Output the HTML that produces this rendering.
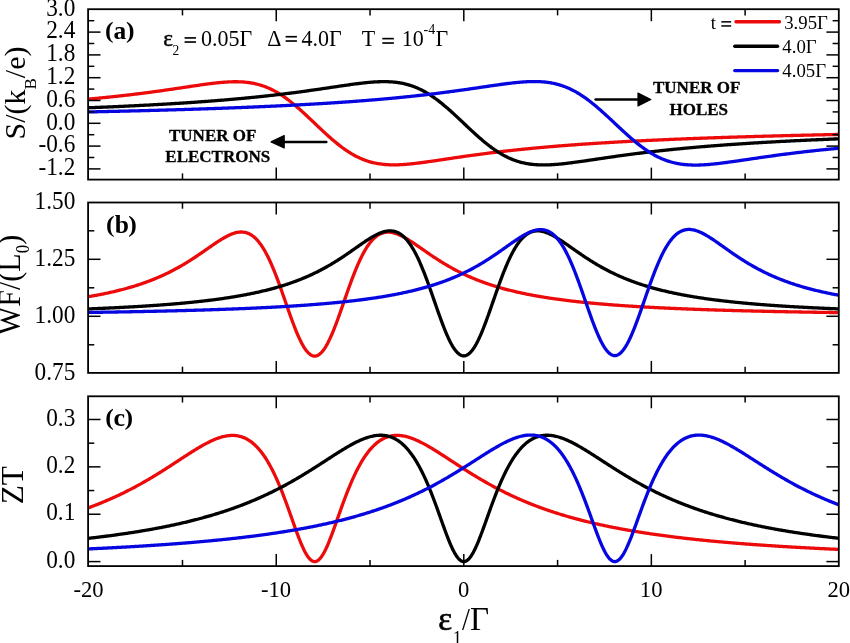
<!DOCTYPE html>
<html><head><meta charset="utf-8"><style>
html,body{margin:0;padding:0;background:#fff;width:850px;height:643px;overflow:hidden}
svg{display:block;will-change:transform}
text{font-family:"Liberation Serif",serif;fill:#000}
</style></head><body>
<svg width="850" height="643" viewBox="0 0 850 643">
<defs><clipPath id="ca"><rect x="88.1" y="9.2" width="750.6999999999999" height="170.4"/></clipPath>
<clipPath id="cb"><rect x="88.1" y="202.5" width="750.6999999999999" height="170.39999999999998"/></clipPath>
<clipPath id="cc"><rect x="88.1" y="396.3" width="750.6999999999999" height="169.8"/></clipPath></defs>
<rect width="850" height="643" fill="#fff"/>
<g fill="none" stroke-width="3.3" stroke-linejoin="round" stroke-linecap="butt">
<path d="M79.32,99.88 L80.26,99.80 81.20,99.72 82.14,99.64 83.07,99.56 84.01,99.48 84.95,99.40 85.89,99.31 86.82,99.23 87.76,99.15 88.70,99.06 89.64,98.98 90.58,98.89 91.51,98.81 92.45,98.72 93.39,98.63 94.33,98.54 95.26,98.46 96.20,98.37 97.14,98.28 98.08,98.19 99.02,98.10 99.95,98.01 100.89,97.92 101.83,97.82 102.77,97.73 103.70,97.64 104.64,97.54 105.58,97.45 106.52,97.36 107.46,97.26 108.39,97.16 109.33,97.07 110.27,96.97 111.21,96.87 112.14,96.77 113.08,96.67 114.02,96.58 114.96,96.47 115.89,96.37 116.83,96.27 117.77,96.17 118.71,96.07 119.65,95.96 120.58,95.86 121.52,95.76 122.46,95.65 123.40,95.54 124.33,95.44 125.27,95.33 126.21,95.22 127.15,95.11 128.09,95.01 129.02,94.90 129.96,94.79 130.90,94.67 131.84,94.56 132.77,94.45 133.71,94.34 134.65,94.22 135.59,94.11 136.53,93.99 137.46,93.88 138.40,93.76 139.34,93.65 140.28,93.53 141.21,93.41 142.15,93.29 143.09,93.17 144.03,93.05 144.97,92.93 145.90,92.81 146.84,92.69 147.78,92.56 148.72,92.44 149.65,92.31 150.59,92.19 151.53,92.06 152.47,91.94 153.40,91.81 154.34,91.68 155.28,91.56 156.22,91.43 157.16,91.30 158.09,91.17 159.03,91.04 159.97,90.91 160.91,90.78 161.84,90.64 162.78,90.51 163.72,90.38 164.66,90.24 165.60,90.11 166.53,89.97 167.47,89.84 168.41,89.70 169.35,89.57 170.28,89.43 171.22,89.29 172.16,89.16 173.10,89.02 174.04,88.88 174.97,88.74 175.91,88.60 176.85,88.46 177.79,88.32 178.72,88.18 179.66,88.04 180.60,87.90 181.54,87.76 182.48,87.62 183.41,87.48 184.35,87.34 185.29,87.20 186.23,87.06 187.16,86.92 188.10,86.78 189.04,86.64 189.98,86.50 190.91,86.36 191.85,86.22 192.79,86.08 193.73,85.94 194.67,85.80 195.60,85.67 196.54,85.53 197.48,85.39 198.42,85.26 199.35,85.12 200.29,84.99 201.23,84.86 202.17,84.72 203.11,84.59 204.04,84.46 204.98,84.34 205.92,84.21 206.86,84.09 207.79,83.96 208.73,83.84 209.67,83.72 210.61,83.60 211.55,83.49 212.48,83.37 213.42,83.26 214.36,83.15 215.30,83.05 216.23,82.95 217.17,82.85 218.11,82.75 219.05,82.66 219.99,82.56 220.92,82.48 221.86,82.40 222.80,82.32 223.74,82.24 224.67,82.17 225.61,82.11 226.55,82.04 227.49,81.99 228.42,81.94 229.36,81.89 230.30,81.85 231.24,81.82 232.18,81.79 233.11,81.77 234.05,81.75 234.99,81.74 235.93,81.74 236.86,81.75 237.80,81.76 238.74,81.78 239.68,81.81 240.62,81.85 241.55,81.90 242.49,81.95 243.43,82.02 244.37,82.09 245.30,82.17 246.24,82.27 247.18,82.37 248.12,82.49 249.06,82.61 249.99,82.75 250.93,82.89 251.87,83.05 252.81,83.22 253.74,83.41 254.68,83.60 255.62,83.81 256.56,84.03 257.50,84.26 258.43,84.51 259.37,84.77 260.31,85.05 261.25,85.33 262.18,85.64 263.12,85.95 264.06,86.28 265.00,86.63 265.93,86.99 266.87,87.36 267.81,87.75 268.75,88.15 269.69,88.57 270.62,89.01 271.56,89.46 272.50,89.92 273.44,90.40 274.37,90.89 275.31,91.40 276.25,91.93 277.19,92.47 278.13,93.02 279.06,93.59 280.00,94.17 280.94,94.77 281.88,95.38 282.81,96.00 283.75,96.64 284.69,97.30 285.63,97.96 286.57,98.64 287.50,99.33 288.44,100.04 289.38,100.75 290.32,101.48 291.25,102.22 292.19,102.97 293.13,103.73 294.07,104.51 295.00,105.29 295.94,106.08 296.88,106.88 297.82,107.69 298.76,108.51 299.69,109.34 300.63,110.18 301.57,111.02 302.51,111.87 303.44,112.72 304.38,113.58 305.32,114.45 306.26,115.32 307.20,116.20 308.13,117.08 309.07,117.96 310.01,118.85 310.95,119.73 311.88,120.62 312.82,121.52 313.76,122.41 314.70,123.30 315.64,124.20 316.57,125.09 317.51,125.98 318.45,126.87 319.39,127.76 320.32,128.65 321.26,129.53 322.20,130.41 323.14,131.28 324.08,132.16 325.01,133.02 325.95,133.88 326.89,134.74 327.83,135.59 328.76,136.43 329.70,137.26 330.64,138.09 331.58,138.91 332.51,139.72 333.45,140.52 334.39,141.31 335.33,142.10 336.27,142.87 337.20,143.63 338.14,144.38 339.08,145.12 340.02,145.85 340.95,146.57 341.89,147.27 342.83,147.96 343.77,148.64 344.71,149.31 345.64,149.96 346.58,150.60 347.52,151.23 348.46,151.84 349.39,152.43 350.33,153.02 351.27,153.58 352.21,154.14 353.15,154.68 354.08,155.20 355.02,155.71 355.96,156.20 356.90,156.68 357.83,157.15 358.77,157.60 359.71,158.03 360.65,158.45 361.59,158.85 362.52,159.24 363.46,159.61 364.40,159.97 365.34,160.32 366.27,160.65 367.21,160.97 368.15,161.27 369.09,161.56 370.03,161.83 370.96,162.09 371.90,162.34 372.84,162.57 373.78,162.79 374.71,163.00 375.65,163.19 376.59,163.38 377.53,163.55 378.46,163.70 379.40,163.85 380.34,163.99 381.28,164.11 382.22,164.23 383.15,164.33 384.09,164.42 385.03,164.51 385.97,164.58 386.90,164.64 387.84,164.70 388.78,164.75 389.72,164.78 390.66,164.81 391.59,164.83 392.53,164.85 393.47,164.85 394.41,164.85 395.34,164.84 396.28,164.83 397.22,164.81 398.16,164.78 399.10,164.74 400.03,164.70 400.97,164.66 401.91,164.61 402.85,164.55 403.78,164.49 404.72,164.42 405.66,164.35 406.60,164.28 407.54,164.20 408.47,164.12 409.41,164.03 410.35,163.94 411.29,163.84 412.22,163.75 413.16,163.65 414.10,163.54 415.04,163.44 415.97,163.33 416.91,163.22 417.85,163.11 418.79,162.99 419.73,162.87 420.66,162.75 421.60,162.63 422.54,162.51 423.48,162.38 424.41,162.26 425.35,162.13 426.29,162.00 427.23,161.87 428.17,161.74 429.10,161.60 430.04,161.47 430.98,161.33 431.92,161.20 432.85,161.06 433.79,160.93 434.73,160.79 435.67,160.65 436.61,160.51 437.54,160.37 438.48,160.23 439.42,160.09 440.36,159.95 441.29,159.81 442.23,159.67 443.17,159.53 444.11,159.39 445.05,159.25 445.98,159.11 446.92,158.97 447.86,158.83 448.80,158.69 449.73,158.55 450.67,158.41 451.61,158.27 452.55,158.13 453.48,157.99 454.42,157.85 455.36,157.71 456.30,157.58 457.24,157.44 458.17,157.30 459.11,157.16 460.05,157.03 460.99,156.89 461.92,156.75 462.86,156.62 463.80,156.48 464.74,156.35 465.68,156.22 466.61,156.08 467.55,155.95 468.49,155.82 469.43,155.69 470.36,155.56 471.30,155.43 472.24,155.30 473.18,155.17 474.12,155.04 475.05,154.91 475.99,154.78 476.93,154.66 477.87,154.53 478.80,154.40 479.74,154.28 480.68,154.16 481.62,154.03 482.56,153.91 483.49,153.79 484.43,153.66 485.37,153.54 486.31,153.42 487.24,153.30 488.18,153.19 489.12,153.07 490.06,152.95 490.99,152.83 491.93,152.72 492.87,152.60 493.81,152.49 494.75,152.37 495.68,152.26 496.62,152.14 497.56,152.03 498.50,151.92 499.43,151.81 500.37,151.70 501.31,151.59 502.25,151.48 503.19,151.37 504.12,151.26 505.06,151.16 506.00,151.05 506.94,150.94 507.87,150.84 508.81,150.73 509.75,150.63 510.69,150.53 511.63,150.42 512.56,150.32 513.50,150.22 514.44,150.12 515.38,150.02 516.31,149.92 517.25,149.82 518.19,149.72 519.13,149.63 520.07,149.53 521.00,149.43 521.94,149.34 522.88,149.24 523.82,149.15 524.75,149.05 525.69,148.96 526.63,148.86 527.57,148.77 528.50,148.68 529.44,148.59 530.38,148.50 531.32,148.41 532.26,148.32 533.19,148.23 534.13,148.14 535.07,148.05 536.01,147.96 536.94,147.88 537.88,147.79 538.82,147.70 539.76,147.62 540.70,147.53 541.63,147.45 542.57,147.37 543.51,147.28 544.45,147.20 545.38,147.12 546.32,147.04 547.26,146.95 548.20,146.87 549.14,146.79 550.07,146.71 551.01,146.63 551.95,146.55 552.89,146.48 553.82,146.40 554.76,146.32 555.70,146.24 556.64,146.17 557.58,146.09 558.51,146.01 559.45,145.94 560.39,145.86 561.33,145.79 562.26,145.72 563.20,145.64 564.14,145.57 565.08,145.50 566.01,145.42 566.95,145.35 567.89,145.28 568.83,145.21 569.77,145.14 570.70,145.07 571.64,145.00 572.58,144.93 573.52,144.86 574.45,144.79 575.39,144.73 576.33,144.66 577.27,144.59 578.21,144.52 579.14,144.46 580.08,144.39 581.02,144.33 581.96,144.26 582.89,144.19 583.83,144.13 584.77,144.07 585.71,144.00 586.65,143.94 587.58,143.88 588.52,143.81 589.46,143.75 590.40,143.69 591.33,143.63 592.27,143.56 593.21,143.50 594.15,143.44 595.09,143.38 596.02,143.32 596.96,143.26 597.90,143.20 598.84,143.14 599.77,143.09 600.71,143.03 601.65,142.97 602.59,142.91 603.52,142.85 604.46,142.80 605.40,142.74 606.34,142.68 607.28,142.63 608.21,142.57 609.15,142.51 610.09,142.46 611.03,142.40 611.96,142.35 612.90,142.30 613.84,142.24 614.78,142.19 615.72,142.13 616.65,142.08 617.59,142.03 618.53,141.97 619.47,141.92 620.40,141.87 621.34,141.82 622.28,141.77 623.22,141.72 624.16,141.66 625.09,141.61 626.03,141.56 626.97,141.51 627.91,141.46 628.84,141.41 629.78,141.36 630.72,141.31 631.66,141.26 632.60,141.22 633.53,141.17 634.47,141.12 635.41,141.07 636.35,141.02 637.28,140.98 638.22,140.93 639.16,140.88 640.10,140.84 641.03,140.79 641.97,140.74 642.91,140.70 643.85,140.65 644.79,140.60 645.72,140.56 646.66,140.51 647.60,140.47 648.54,140.42 649.47,140.38 650.41,140.34 651.35,140.29 652.29,140.25 653.23,140.20 654.16,140.16 655.10,140.12 656.04,140.07 656.98,140.03 657.91,139.99 658.85,139.95 659.79,139.90 660.73,139.86 661.67,139.82 662.60,139.78 663.54,139.74 664.48,139.70 665.42,139.66 666.35,139.62 667.29,139.57 668.23,139.53 669.17,139.49 670.11,139.45 671.04,139.41 671.98,139.37 672.92,139.34 673.86,139.30 674.79,139.26 675.73,139.22 676.67,139.18 677.61,139.14 678.54,139.10 679.48,139.06 680.42,139.03 681.36,138.99 682.30,138.95 683.23,138.91 684.17,138.88 685.11,138.84 686.05,138.80 686.98,138.77 687.92,138.73 688.86,138.69 689.80,138.66 690.74,138.62 691.67,138.58 692.61,138.55 693.55,138.51 694.49,138.48 695.42,138.44 696.36,138.41 697.30,138.37 698.24,138.34 699.18,138.30 700.11,138.27 701.05,138.23 701.99,138.20 702.93,138.17 703.86,138.13 704.80,138.10 705.74,138.06 706.68,138.03 707.62,138.00 708.55,137.96 709.49,137.93 710.43,137.90 711.37,137.87 712.30,137.83 713.24,137.80 714.18,137.77 715.12,137.74 716.05,137.70 716.99,137.67 717.93,137.64 718.87,137.61 719.81,137.58 720.74,137.55 721.68,137.51 722.62,137.48 723.56,137.45 724.49,137.42 725.43,137.39 726.37,137.36 727.31,137.33 728.25,137.30 729.18,137.27 730.12,137.24 731.06,137.21 732.00,137.18 732.93,137.15 733.87,137.12 734.81,137.09 735.75,137.06 736.69,137.03 737.62,137.00 738.56,136.97 739.50,136.95 740.44,136.92 741.37,136.89 742.31,136.86 743.25,136.83 744.19,136.80 745.12,136.78 746.06,136.75 747.00,136.72 747.94,136.69 748.88,136.66 749.81,136.64 750.75,136.61 751.69,136.58 752.63,136.55 753.56,136.53 754.50,136.50 755.44,136.47 756.38,136.45 757.32,136.42 758.25,136.39 759.19,136.37 760.13,136.34 761.07,136.31 762.00,136.29 762.94,136.26 763.88,136.24 764.82,136.21 765.76,136.18 766.69,136.16 767.63,136.13 768.57,136.11 769.51,136.08 770.44,136.06 771.38,136.03 772.32,136.01 773.26,135.98 774.20,135.96 775.13,135.93 776.07,135.91 777.01,135.88 777.95,135.86 778.88,135.83 779.82,135.81 780.76,135.79 781.70,135.76 782.63,135.74 783.57,135.71 784.51,135.69 785.45,135.67 786.39,135.64 787.32,135.62 788.26,135.59 789.20,135.57 790.14,135.55 791.07,135.52 792.01,135.50 792.95,135.48 793.89,135.46 794.83,135.43 795.76,135.41 796.70,135.39 797.64,135.36 798.58,135.34 799.51,135.32 800.45,135.30 801.39,135.27 802.33,135.25 803.27,135.23 804.20,135.21 805.14,135.19 806.08,135.16 807.02,135.14 807.95,135.12 808.89,135.10 809.83,135.08 810.77,135.06 811.71,135.03 812.64,135.01 813.58,134.99 814.52,134.97 815.46,134.95 816.39,134.93 817.33,134.91 818.27,134.89 819.21,134.87 820.14,134.84 821.08,134.82 822.02,134.80 822.96,134.78 823.90,134.76 824.83,134.74 825.77,134.72 826.71,134.70 827.65,134.68 828.58,134.66 829.52,134.64 830.46,134.62 831.40,134.60 832.34,134.58 833.27,134.56 834.21,134.54 835.15,134.52 836.09,134.50 837.02,134.48 837.96,134.46 838.90,134.44 839.84,134.42 840.78,134.41 841.71,134.39 842.65,134.37 843.59,134.35 844.53,134.33 845.46,134.31 846.40,134.29 847.34,134.27 848.28,134.25" stroke="#ec0a0a" clip-path="url(#ca)"/>
<path d="M79.32,108.12 L80.26,108.08 81.20,108.05 82.14,108.01 83.07,107.98 84.01,107.94 84.95,107.91 85.89,107.87 86.82,107.83 87.76,107.80 88.70,107.76 89.64,107.72 90.58,107.69 91.51,107.65 92.45,107.61 93.39,107.58 94.33,107.54 95.26,107.50 96.20,107.46 97.14,107.42 98.08,107.39 99.02,107.35 99.95,107.31 100.89,107.27 101.83,107.23 102.77,107.19 103.70,107.15 104.64,107.11 105.58,107.07 106.52,107.03 107.46,106.99 108.39,106.95 109.33,106.91 110.27,106.87 111.21,106.83 112.14,106.79 113.08,106.75 114.02,106.71 114.96,106.67 115.89,106.63 116.83,106.58 117.77,106.54 118.71,106.50 119.65,106.46 120.58,106.41 121.52,106.37 122.46,106.33 123.40,106.28 124.33,106.24 125.27,106.20 126.21,106.15 127.15,106.11 128.09,106.06 129.02,106.02 129.96,105.97 130.90,105.93 131.84,105.88 132.77,105.84 133.71,105.79 134.65,105.75 135.59,105.70 136.53,105.65 137.46,105.61 138.40,105.56 139.34,105.51 140.28,105.46 141.21,105.42 142.15,105.37 143.09,105.32 144.03,105.27 144.97,105.22 145.90,105.17 146.84,105.13 147.78,105.08 148.72,105.03 149.65,104.98 150.59,104.93 151.53,104.88 152.47,104.82 153.40,104.77 154.34,104.72 155.28,104.67 156.22,104.62 157.16,104.57 158.09,104.51 159.03,104.46 159.97,104.41 160.91,104.36 161.84,104.30 162.78,104.25 163.72,104.19 164.66,104.14 165.60,104.08 166.53,104.03 167.47,103.97 168.41,103.92 169.35,103.86 170.28,103.81 171.22,103.75 172.16,103.69 173.10,103.64 174.04,103.58 174.97,103.52 175.91,103.46 176.85,103.41 177.79,103.35 178.72,103.29 179.66,103.23 180.60,103.17 181.54,103.11 182.48,103.05 183.41,102.99 184.35,102.93 185.29,102.87 186.23,102.80 187.16,102.74 188.10,102.68 189.04,102.62 189.98,102.55 190.91,102.49 191.85,102.43 192.79,102.36 193.73,102.30 194.67,102.23 195.60,102.17 196.54,102.10 197.48,102.04 198.42,101.97 199.35,101.90 200.29,101.84 201.23,101.77 202.17,101.70 203.11,101.63 204.04,101.56 204.98,101.50 205.92,101.43 206.86,101.36 207.79,101.29 208.73,101.21 209.67,101.14 210.61,101.07 211.55,101.00 212.48,100.93 213.42,100.86 214.36,100.78 215.30,100.71 216.23,100.63 217.17,100.56 218.11,100.48 219.05,100.41 219.99,100.33 220.92,100.26 221.86,100.18 222.80,100.10 223.74,100.03 224.67,99.95 225.61,99.87 226.55,99.79 227.49,99.71 228.42,99.63 229.36,99.55 230.30,99.47 231.24,99.39 232.18,99.31 233.11,99.22 234.05,99.14 234.99,99.06 235.93,98.97 236.86,98.89 237.80,98.80 238.74,98.72 239.68,98.63 240.62,98.55 241.55,98.46 242.49,98.37 243.43,98.28 244.37,98.19 245.30,98.10 246.24,98.01 247.18,97.92 248.12,97.83 249.06,97.74 249.99,97.65 250.93,97.56 251.87,97.46 252.81,97.37 253.74,97.28 254.68,97.18 255.62,97.09 256.56,96.99 257.50,96.89 258.43,96.80 259.37,96.70 260.31,96.60 261.25,96.50 262.18,96.40 263.12,96.30 264.06,96.20 265.00,96.10 265.93,96.00 266.87,95.90 267.81,95.79 268.75,95.69 269.69,95.58 270.62,95.48 271.56,95.37 272.50,95.27 273.44,95.16 274.37,95.05 275.31,94.94 276.25,94.84 277.19,94.73 278.13,94.62 279.06,94.51 280.00,94.39 280.94,94.28 281.88,94.17 282.81,94.06 283.75,93.94 284.69,93.83 285.63,93.71 286.57,93.60 287.50,93.48 288.44,93.36 289.38,93.24 290.32,93.13 291.25,93.01 292.19,92.89 293.13,92.77 294.07,92.65 295.00,92.52 295.94,92.40 296.88,92.28 297.82,92.15 298.76,92.03 299.69,91.91 300.63,91.78 301.57,91.65 302.51,91.53 303.44,91.40 304.38,91.27 305.32,91.14 306.26,91.01 307.20,90.88 308.13,90.75 309.07,90.62 310.01,90.49 310.95,90.36 311.88,90.23 312.82,90.09 313.76,89.96 314.70,89.83 315.64,89.69 316.57,89.56 317.51,89.42 318.45,89.29 319.39,89.15 320.32,89.01 321.26,88.88 322.20,88.74 323.14,88.60 324.08,88.46 325.01,88.32 325.95,88.19 326.89,88.05 327.83,87.91 328.76,87.77 329.70,87.63 330.64,87.49 331.58,87.35 332.51,87.21 333.45,87.07 334.39,86.93 335.33,86.79 336.27,86.65 337.20,86.52 338.14,86.38 339.08,86.24 340.02,86.10 340.95,85.96 341.89,85.82 342.83,85.69 343.77,85.55 344.71,85.42 345.64,85.28 346.58,85.15 347.52,85.01 348.46,84.88 349.39,84.75 350.33,84.62 351.27,84.49 352.21,84.36 353.15,84.23 354.08,84.11 355.02,83.98 355.96,83.86 356.90,83.74 357.83,83.62 358.77,83.51 359.71,83.39 360.65,83.28 361.59,83.17 362.52,83.06 363.46,82.96 364.40,82.85 365.34,82.75 366.27,82.66 367.21,82.57 368.15,82.48 369.09,82.39 370.03,82.31 370.96,82.23 371.90,82.15 372.84,82.08 373.78,82.02 374.71,81.96 375.65,81.90 376.59,81.85 377.53,81.80 378.46,81.76 379.40,81.73 380.34,81.70 381.28,81.68 382.22,81.66 383.15,81.65 384.09,81.65 385.03,81.65 385.97,81.66 386.90,81.68 387.84,81.71 388.78,81.74 389.72,81.79 390.66,81.84 391.59,81.90 392.53,81.97 393.47,82.05 394.41,82.14 395.34,82.24 396.28,82.35 397.22,82.47 398.16,82.60 399.10,82.75 400.03,82.90 400.97,83.06 401.91,83.24 402.85,83.43 403.78,83.63 404.72,83.84 405.66,84.07 406.60,84.31 407.54,84.56 408.47,84.83 409.41,85.11 410.35,85.40 411.29,85.71 412.22,86.03 413.16,86.37 414.10,86.72 415.04,87.08 415.97,87.46 416.91,87.85 417.85,88.26 418.79,88.68 419.73,89.12 420.66,89.57 421.60,90.04 422.54,90.52 423.48,91.02 424.41,91.53 425.35,92.06 426.29,92.60 427.23,93.15 428.17,93.72 429.10,94.30 430.04,94.90 430.98,95.51 431.92,96.14 432.85,96.78 433.79,97.43 434.73,98.09 435.67,98.77 436.61,99.46 437.54,100.17 438.48,100.88 439.42,101.61 440.36,102.34 441.29,103.09 442.23,103.85 443.17,104.62 444.11,105.40 445.05,106.19 445.98,106.99 446.92,107.79 447.86,108.61 448.80,109.43 449.73,110.26 450.67,111.10 451.61,111.94 452.55,112.79 453.48,113.65 454.42,114.51 455.36,115.37 456.30,116.24 457.24,117.12 458.17,117.99 459.11,118.87 460.05,119.76 460.99,120.64 461.92,121.53 462.86,122.41 463.80,123.30 464.74,124.19 465.68,125.07 466.61,125.96 467.55,126.84 468.49,127.73 469.43,128.61 470.36,129.48 471.30,130.36 472.24,131.23 473.18,132.09 474.12,132.95 475.05,133.81 475.99,134.66 476.93,135.50 477.87,136.34 478.80,137.17 479.74,137.99 480.68,138.81 481.62,139.61 482.56,140.41 483.49,141.20 484.43,141.98 485.37,142.75 486.31,143.51 487.24,144.26 488.18,144.99 489.12,145.72 490.06,146.43 490.99,147.14 491.93,147.83 492.87,148.51 493.81,149.17 494.75,149.82 495.68,150.46 496.62,151.09 497.56,151.70 498.50,152.30 499.43,152.88 500.37,153.45 501.31,154.00 502.25,154.54 503.19,155.07 504.12,155.58 505.06,156.08 506.00,156.56 506.94,157.03 507.87,157.48 508.81,157.92 509.75,158.34 510.69,158.75 511.63,159.14 512.56,159.52 513.50,159.88 514.44,160.23 515.38,160.57 516.31,160.89 517.25,161.20 518.19,161.49 519.13,161.77 520.07,162.04 521.00,162.29 521.94,162.53 522.88,162.76 523.82,162.97 524.75,163.17 525.69,163.36 526.63,163.54 527.57,163.70 528.50,163.85 529.44,164.00 530.38,164.13 531.32,164.25 532.26,164.36 533.19,164.46 534.13,164.55 535.07,164.63 536.01,164.70 536.94,164.76 537.88,164.81 538.82,164.86 539.76,164.89 540.70,164.92 541.63,164.94 542.57,164.95 543.51,164.95 544.45,164.95 545.38,164.94 546.32,164.92 547.26,164.90 548.20,164.87 549.14,164.84 550.07,164.80 551.01,164.75 551.95,164.70 552.89,164.64 553.82,164.58 554.76,164.52 555.70,164.45 556.64,164.37 557.58,164.29 558.51,164.21 559.45,164.12 560.39,164.03 561.33,163.94 562.26,163.85 563.20,163.75 564.14,163.64 565.08,163.54 566.01,163.43 566.95,163.32 567.89,163.21 568.83,163.09 569.77,162.98 570.70,162.86 571.64,162.74 572.58,162.62 573.52,162.49 574.45,162.37 575.39,162.24 576.33,162.11 577.27,161.98 578.21,161.85 579.14,161.72 580.08,161.59 581.02,161.45 581.96,161.32 582.89,161.18 583.83,161.05 584.77,160.91 585.71,160.78 586.65,160.64 587.58,160.50 588.52,160.36 589.46,160.22 590.40,160.08 591.33,159.95 592.27,159.81 593.21,159.67 594.15,159.53 595.09,159.39 596.02,159.25 596.96,159.11 597.90,158.97 598.84,158.83 599.77,158.69 600.71,158.55 601.65,158.41 602.59,158.28 603.52,158.14 604.46,158.00 605.40,157.86 606.34,157.72 607.28,157.59 608.21,157.45 609.15,157.31 610.09,157.18 611.03,157.04 611.96,156.91 612.90,156.77 613.84,156.64 614.78,156.51 615.72,156.37 616.65,156.24 617.59,156.11 618.53,155.98 619.47,155.85 620.40,155.72 621.34,155.59 622.28,155.46 623.22,155.33 624.16,155.20 625.09,155.07 626.03,154.95 626.97,154.82 627.91,154.69 628.84,154.57 629.78,154.45 630.72,154.32 631.66,154.20 632.60,154.08 633.53,153.95 634.47,153.83 635.41,153.71 636.35,153.59 637.28,153.47 638.22,153.36 639.16,153.24 640.10,153.12 641.03,153.00 641.97,152.89 642.91,152.77 643.85,152.66 644.79,152.54 645.72,152.43 646.66,152.32 647.60,152.21 648.54,152.09 649.47,151.98 650.41,151.87 651.35,151.76 652.29,151.66 653.23,151.55 654.16,151.44 655.10,151.33 656.04,151.23 656.98,151.12 657.91,151.02 658.85,150.91 659.79,150.81 660.73,150.70 661.67,150.60 662.60,150.50 663.54,150.40 664.48,150.30 665.42,150.20 666.35,150.10 667.29,150.00 668.23,149.90 669.17,149.80 670.11,149.71 671.04,149.61 671.98,149.51 672.92,149.42 673.86,149.32 674.79,149.23 675.73,149.14 676.67,149.04 677.61,148.95 678.54,148.86 679.48,148.77 680.42,148.68 681.36,148.59 682.30,148.50 683.23,148.41 684.17,148.32 685.11,148.23 686.05,148.14 686.98,148.05 687.92,147.97 688.86,147.88 689.80,147.80 690.74,147.71 691.67,147.63 692.61,147.54 693.55,147.46 694.49,147.38 695.42,147.29 696.36,147.21 697.30,147.13 698.24,147.05 699.18,146.97 700.11,146.89 701.05,146.81 701.99,146.73 702.93,146.65 703.86,146.57 704.80,146.50 705.74,146.42 706.68,146.34 707.62,146.27 708.55,146.19 709.49,146.12 710.43,146.04 711.37,145.97 712.30,145.89 713.24,145.82 714.18,145.74 715.12,145.67 716.05,145.60 716.99,145.53 717.93,145.46 718.87,145.39 719.81,145.31 720.74,145.24 721.68,145.17 722.62,145.10 723.56,145.04 724.49,144.97 725.43,144.90 726.37,144.83 727.31,144.76 728.25,144.70 729.18,144.63 730.12,144.56 731.06,144.50 732.00,144.43 732.93,144.37 733.87,144.30 734.81,144.24 735.75,144.17 736.69,144.11 737.62,144.05 738.56,143.98 739.50,143.92 740.44,143.86 741.37,143.80 742.31,143.73 743.25,143.67 744.19,143.61 745.12,143.55 746.06,143.49 747.00,143.43 747.94,143.37 748.88,143.31 749.81,143.25 750.75,143.19 751.69,143.14 752.63,143.08 753.56,143.02 754.50,142.96 755.44,142.91 756.38,142.85 757.32,142.79 758.25,142.74 759.19,142.68 760.13,142.63 761.07,142.57 762.00,142.52 762.94,142.46 763.88,142.41 764.82,142.35 765.76,142.30 766.69,142.24 767.63,142.19 768.57,142.14 769.51,142.09 770.44,142.03 771.38,141.98 772.32,141.93 773.26,141.88 774.20,141.83 775.13,141.78 776.07,141.72 777.01,141.67 777.95,141.62 778.88,141.57 779.82,141.52 780.76,141.47 781.70,141.43 782.63,141.38 783.57,141.33 784.51,141.28 785.45,141.23 786.39,141.18 787.32,141.14 788.26,141.09 789.20,141.04 790.14,140.99 791.07,140.95 792.01,140.90 792.95,140.85 793.89,140.81 794.83,140.76 795.76,140.72 796.70,140.67 797.64,140.63 798.58,140.58 799.51,140.54 800.45,140.49 801.39,140.45 802.33,140.40 803.27,140.36 804.20,140.32 805.14,140.27 806.08,140.23 807.02,140.19 807.95,140.14 808.89,140.10 809.83,140.06 810.77,140.02 811.71,139.97 812.64,139.93 813.58,139.89 814.52,139.85 815.46,139.81 816.39,139.77 817.33,139.73 818.27,139.69 819.21,139.65 820.14,139.61 821.08,139.57 822.02,139.53 822.96,139.49 823.90,139.45 824.83,139.41 825.77,139.37 826.71,139.33 827.65,139.29 828.58,139.25 829.52,139.21 830.46,139.18 831.40,139.14 832.34,139.10 833.27,139.06 834.21,139.02 835.15,138.99 836.09,138.95 837.02,138.91 837.96,138.88 838.90,138.84 839.84,138.80 840.78,138.77 841.71,138.73 842.65,138.69 843.59,138.66 844.53,138.62 845.46,138.59 846.40,138.55 847.34,138.52 848.28,138.48" stroke="#000000" clip-path="url(#ca)"/>
<path d="M79.32,112.11 L80.26,112.10 81.20,112.08 82.14,112.06 83.07,112.04 84.01,112.02 84.95,112.00 85.89,111.98 86.82,111.96 87.76,111.94 88.70,111.92 89.64,111.90 90.58,111.88 91.51,111.86 92.45,111.84 93.39,111.82 94.33,111.80 95.26,111.78 96.20,111.76 97.14,111.74 98.08,111.72 99.02,111.70 99.95,111.68 100.89,111.66 101.83,111.64 102.77,111.62 103.70,111.60 104.64,111.58 105.58,111.56 106.52,111.54 107.46,111.51 108.39,111.49 109.33,111.47 110.27,111.45 111.21,111.43 112.14,111.41 113.08,111.39 114.02,111.36 114.96,111.34 115.89,111.32 116.83,111.30 117.77,111.28 118.71,111.26 119.65,111.23 120.58,111.21 121.52,111.19 122.46,111.17 123.40,111.15 124.33,111.12 125.27,111.10 126.21,111.08 127.15,111.05 128.09,111.03 129.02,111.01 129.96,110.99 130.90,110.96 131.84,110.94 132.77,110.92 133.71,110.89 134.65,110.87 135.59,110.85 136.53,110.82 137.46,110.80 138.40,110.78 139.34,110.75 140.28,110.73 141.21,110.70 142.15,110.68 143.09,110.66 144.03,110.63 144.97,110.61 145.90,110.58 146.84,110.56 147.78,110.53 148.72,110.51 149.65,110.49 150.59,110.46 151.53,110.44 152.47,110.41 153.40,110.39 154.34,110.36 155.28,110.33 156.22,110.31 157.16,110.28 158.09,110.26 159.03,110.23 159.97,110.21 160.91,110.18 161.84,110.15 162.78,110.13 163.72,110.10 164.66,110.08 165.60,110.05 166.53,110.02 167.47,110.00 168.41,109.97 169.35,109.94 170.28,109.92 171.22,109.89 172.16,109.86 173.10,109.83 174.04,109.81 174.97,109.78 175.91,109.75 176.85,109.72 177.79,109.70 178.72,109.67 179.66,109.64 180.60,109.61 181.54,109.58 182.48,109.55 183.41,109.53 184.35,109.50 185.29,109.47 186.23,109.44 187.16,109.41 188.10,109.38 189.04,109.35 189.98,109.32 190.91,109.29 191.85,109.26 192.79,109.23 193.73,109.20 194.67,109.17 195.60,109.14 196.54,109.11 197.48,109.08 198.42,109.05 199.35,109.02 200.29,108.99 201.23,108.96 202.17,108.93 203.11,108.90 204.04,108.87 204.98,108.84 205.92,108.81 206.86,108.77 207.79,108.74 208.73,108.71 209.67,108.68 210.61,108.65 211.55,108.61 212.48,108.58 213.42,108.55 214.36,108.52 215.30,108.48 216.23,108.45 217.17,108.42 218.11,108.38 219.05,108.35 219.99,108.32 220.92,108.28 221.86,108.25 222.80,108.21 223.74,108.18 224.67,108.15 225.61,108.11 226.55,108.08 227.49,108.04 228.42,108.01 229.36,107.97 230.30,107.94 231.24,107.90 232.18,107.87 233.11,107.83 234.05,107.79 234.99,107.76 235.93,107.72 236.86,107.69 237.80,107.65 238.74,107.61 239.68,107.58 240.62,107.54 241.55,107.50 242.49,107.46 243.43,107.43 244.37,107.39 245.30,107.35 246.24,107.31 247.18,107.27 248.12,107.24 249.06,107.20 249.99,107.16 250.93,107.12 251.87,107.08 252.81,107.04 253.74,107.00 254.68,106.96 255.62,106.92 256.56,106.88 257.50,106.84 258.43,106.80 259.37,106.76 260.31,106.72 261.25,106.68 262.18,106.64 263.12,106.60 264.06,106.56 265.00,106.51 265.93,106.47 266.87,106.43 267.81,106.39 268.75,106.34 269.69,106.30 270.62,106.26 271.56,106.22 272.50,106.17 273.44,106.13 274.37,106.08 275.31,106.04 276.25,106.00 277.19,105.95 278.13,105.91 279.06,105.86 280.00,105.82 280.94,105.77 281.88,105.73 282.81,105.68 283.75,105.63 284.69,105.59 285.63,105.54 286.57,105.49 287.50,105.45 288.44,105.40 289.38,105.35 290.32,105.30 291.25,105.26 292.19,105.21 293.13,105.16 294.07,105.11 295.00,105.06 295.94,105.01 296.88,104.96 297.82,104.91 298.76,104.86 299.69,104.81 300.63,104.76 301.57,104.71 302.51,104.66 303.44,104.61 304.38,104.56 305.32,104.51 306.26,104.46 307.20,104.40 308.13,104.35 309.07,104.30 310.01,104.24 310.95,104.19 311.88,104.14 312.82,104.08 313.76,104.03 314.70,103.97 315.64,103.92 316.57,103.86 317.51,103.81 318.45,103.75 319.39,103.70 320.32,103.64 321.26,103.58 322.20,103.53 323.14,103.47 324.08,103.41 325.01,103.35 325.95,103.30 326.89,103.24 327.83,103.18 328.76,103.12 329.70,103.06 330.64,103.00 331.58,102.94 332.51,102.88 333.45,102.82 334.39,102.76 335.33,102.70 336.27,102.63 337.20,102.57 338.14,102.51 339.08,102.45 340.02,102.38 340.95,102.32 341.89,102.26 342.83,102.19 343.77,102.13 344.71,102.06 345.64,102.00 346.58,101.93 347.52,101.87 348.46,101.80 349.39,101.73 350.33,101.66 351.27,101.60 352.21,101.53 353.15,101.46 354.08,101.39 355.02,101.32 355.96,101.25 356.90,101.18 357.83,101.11 358.77,101.04 359.71,100.97 360.65,100.90 361.59,100.83 362.52,100.75 363.46,100.68 364.40,100.61 365.34,100.53 366.27,100.46 367.21,100.39 368.15,100.31 369.09,100.23 370.03,100.16 370.96,100.08 371.90,100.01 372.84,99.93 373.78,99.85 374.71,99.77 375.65,99.69 376.59,99.61 377.53,99.53 378.46,99.45 379.40,99.37 380.34,99.29 381.28,99.21 382.22,99.13 383.15,99.05 384.09,98.96 385.03,98.88 385.97,98.80 386.90,98.71 387.84,98.63 388.78,98.54 389.72,98.45 390.66,98.37 391.59,98.28 392.53,98.19 393.47,98.11 394.41,98.02 395.34,97.93 396.28,97.84 397.22,97.75 398.16,97.66 399.10,97.57 400.03,97.47 400.97,97.38 401.91,97.29 402.85,97.19 403.78,97.10 404.72,97.01 405.66,96.91 406.60,96.81 407.54,96.72 408.47,96.62 409.41,96.52 410.35,96.42 411.29,96.33 412.22,96.23 413.16,96.13 414.10,96.03 415.04,95.92 415.97,95.82 416.91,95.72 417.85,95.62 418.79,95.51 419.73,95.41 420.66,95.30 421.60,95.20 422.54,95.09 423.48,94.99 424.41,94.88 425.35,94.77 426.29,94.66 427.23,94.55 428.17,94.44 429.10,94.33 430.04,94.22 430.98,94.11 431.92,94.00 432.85,93.88 433.79,93.77 434.73,93.66 435.67,93.54 436.61,93.43 437.54,93.31 438.48,93.19 439.42,93.08 440.36,92.96 441.29,92.84 442.23,92.72 443.17,92.60 444.11,92.48 445.05,92.36 445.98,92.23 446.92,92.11 447.86,91.99 448.80,91.87 449.73,91.74 450.67,91.62 451.61,91.49 452.55,91.36 453.48,91.24 454.42,91.11 455.36,90.98 456.30,90.85 457.24,90.72 458.17,90.59 459.11,90.46 460.05,90.33 460.99,90.20 461.92,90.07 462.86,89.94 463.80,89.81 464.74,89.67 465.68,89.54 466.61,89.40 467.55,89.27 468.49,89.13 469.43,89.00 470.36,88.86 471.30,88.73 472.24,88.59 473.18,88.45 474.12,88.32 475.05,88.18 475.99,88.04 476.93,87.90 477.87,87.77 478.80,87.63 479.74,87.49 480.68,87.35 481.62,87.21 482.56,87.08 483.49,86.94 484.43,86.80 485.37,86.66 486.31,86.52 487.24,86.38 488.18,86.25 489.12,86.11 490.06,85.97 490.99,85.83 491.93,85.70 492.87,85.56 493.81,85.43 494.75,85.29 495.68,85.16 496.62,85.03 497.56,84.89 498.50,84.76 499.43,84.63 500.37,84.50 501.31,84.37 502.25,84.25 503.19,84.12 504.12,84.00 505.06,83.87 506.00,83.75 506.94,83.63 507.87,83.51 508.81,83.40 509.75,83.29 510.69,83.17 511.63,83.06 512.56,82.96 513.50,82.85 514.44,82.75 515.38,82.65 516.31,82.56 517.25,82.47 518.19,82.38 519.13,82.29 520.07,82.21 521.00,82.13 521.94,82.06 522.88,81.99 523.82,81.92 524.75,81.86 525.69,81.80 526.63,81.75 527.57,81.70 528.50,81.66 529.44,81.63 530.38,81.60 531.32,81.57 532.26,81.56 533.19,81.55 534.13,81.54 535.07,81.54 536.01,81.55 536.94,81.57 537.88,81.60 538.82,81.63 539.76,81.67 540.70,81.72 541.63,81.78 542.57,81.85 543.51,81.92 544.45,82.01 545.38,82.10 546.32,82.21 547.26,82.33 548.20,82.45 549.14,82.59 550.07,82.74 551.01,82.90 551.95,83.07 552.89,83.25 553.82,83.45 554.76,83.65 555.70,83.87 556.64,84.11 557.58,84.35 558.51,84.61 559.45,84.88 560.39,85.17 561.33,85.47 562.26,85.78 563.20,86.10 564.14,86.44 565.08,86.80 566.01,87.17 566.95,87.55 567.89,87.95 568.83,88.36 569.77,88.79 570.70,89.23 571.64,89.68 572.58,90.15 573.52,90.64 574.45,91.14 575.39,91.65 576.33,92.18 577.27,92.72 578.21,93.28 579.14,93.85 580.08,94.43 581.02,95.03 581.96,95.64 582.89,96.27 583.83,96.91 584.77,97.56 585.71,98.22 586.65,98.90 587.58,99.59 588.52,100.29 589.46,101.00 590.40,101.73 591.33,102.46 592.27,103.21 593.21,103.97 594.15,104.73 595.09,105.51 596.02,106.29 596.96,107.09 597.90,107.89 598.84,108.70 599.77,109.52 600.71,110.34 601.65,111.18 602.59,112.01 603.52,112.86 604.46,113.71 605.40,114.57 606.34,115.43 607.28,116.29 608.21,117.16 609.15,118.03 610.09,118.90 611.03,119.78 611.96,120.66 612.90,121.54 613.84,122.42 614.78,123.30 615.72,124.18 616.65,125.06 617.59,125.94 618.53,126.82 619.47,127.69 620.40,128.57 621.34,129.44 622.28,130.31 623.22,131.17 624.16,132.03 625.09,132.89 626.03,133.74 626.97,134.58 627.91,135.42 628.84,136.25 629.78,137.08 630.72,137.90 631.66,138.71 632.60,139.51 633.53,140.30 634.47,141.09 635.41,141.86 636.35,142.63 637.28,143.39 638.22,144.13 639.16,144.87 640.10,145.59 641.03,146.30 641.97,147.00 642.91,147.69 643.85,148.37 644.79,149.04 645.72,149.69 646.66,150.33 647.60,150.95 648.54,151.56 649.47,152.16 650.41,152.75 651.35,153.32 652.29,153.87 653.23,154.42 654.16,154.94 655.10,155.46 656.04,155.96 656.98,156.44 657.91,156.91 658.85,157.37 659.79,157.81 660.73,158.24 661.67,158.65 662.60,159.05 663.54,159.43 664.48,159.80 665.42,160.15 666.35,160.49 667.29,160.82 668.23,161.13 669.17,161.43 670.11,161.72 671.04,161.99 671.98,162.25 672.92,162.49 673.86,162.73 674.79,162.95 675.73,163.15 676.67,163.35 677.61,163.53 678.54,163.70 679.48,163.86 680.42,164.01 681.36,164.15 682.30,164.28 683.23,164.39 684.17,164.50 685.11,164.59 686.05,164.68 686.98,164.76 687.92,164.82 688.86,164.88 689.80,164.93 690.74,164.97 691.67,165.01 692.61,165.03 693.55,165.05 694.49,165.06 695.42,165.06 696.36,165.06 697.30,165.05 698.24,165.03 699.18,165.01 700.11,164.98 701.05,164.94 701.99,164.90 702.93,164.86 703.86,164.80 704.80,164.75 705.74,164.69 706.68,164.62 707.62,164.55 708.55,164.48 709.49,164.40 710.43,164.32 711.37,164.23 712.30,164.14 713.24,164.05 714.18,163.95 715.12,163.85 716.05,163.75 716.99,163.65 717.93,163.54 718.87,163.43 719.81,163.32 720.74,163.21 721.68,163.09 722.62,162.97 723.56,162.86 724.49,162.73 725.43,162.61 726.37,162.49 727.31,162.36 728.25,162.23 729.18,162.11 730.12,161.98 731.06,161.85 732.00,161.71 732.93,161.58 733.87,161.45 734.81,161.31 735.75,161.18 736.69,161.04 737.62,160.91 738.56,160.77 739.50,160.64 740.44,160.50 741.37,160.36 742.31,160.22 743.25,160.09 744.19,159.95 745.12,159.81 746.06,159.67 747.00,159.53 747.94,159.39 748.88,159.26 749.81,159.12 750.75,158.98 751.69,158.84 752.63,158.70 753.56,158.56 754.50,158.43 755.44,158.29 756.38,158.15 757.32,158.02 758.25,157.88 759.19,157.74 760.13,157.61 761.07,157.47 762.00,157.34 762.94,157.20 763.88,157.07 764.82,156.93 765.76,156.80 766.69,156.67 767.63,156.54 768.57,156.40 769.51,156.27 770.44,156.14 771.38,156.01 772.32,155.88 773.26,155.75 774.20,155.62 775.13,155.50 776.07,155.37 777.01,155.24 777.95,155.12 778.88,154.99 779.82,154.87 780.76,154.74 781.70,154.62 782.63,154.49 783.57,154.37 784.51,154.25 785.45,154.13 786.39,154.01 787.32,153.89 788.26,153.77 789.20,153.65 790.14,153.53 791.07,153.41 792.01,153.30 792.95,153.18 793.89,153.06 794.83,152.95 795.76,152.83 796.70,152.72 797.64,152.61 798.58,152.50 799.51,152.38 800.45,152.27 801.39,152.16 802.33,152.05 803.27,151.94 804.20,151.83 805.14,151.73 806.08,151.62 807.02,151.51 807.95,151.41 808.89,151.30 809.83,151.20 810.77,151.09 811.71,150.99 812.64,150.88 813.58,150.78 814.52,150.68 815.46,150.58 816.39,150.48 817.33,150.38 818.27,150.28 819.21,150.18 820.14,150.08 821.08,149.98 822.02,149.89 822.96,149.79 823.90,149.69 824.83,149.60 825.77,149.50 826.71,149.41 827.65,149.32 828.58,149.22 829.52,149.13 830.46,149.04 831.40,148.95 832.34,148.86 833.27,148.77 834.21,148.68 835.15,148.59 836.09,148.50 837.02,148.41 837.96,148.32 838.90,148.24 839.84,148.15 840.78,148.06 841.71,147.98 842.65,147.89 843.59,147.81 844.53,147.72 845.46,147.64 846.40,147.56 847.34,147.47 848.28,147.39" stroke="#0606e0" clip-path="url(#ca)"/>
<path d="M79.32,298.11 L80.26,297.97 81.20,297.82 82.14,297.68 83.07,297.53 84.01,297.38 84.95,297.23 85.89,297.08 86.82,296.93 87.76,296.77 88.70,296.61 89.64,296.45 90.58,296.29 91.51,296.13 92.45,295.96 93.39,295.80 94.33,295.63 95.26,295.46 96.20,295.29 97.14,295.11 98.08,294.93 99.02,294.75 99.95,294.57 100.89,294.39 101.83,294.20 102.77,294.02 103.70,293.83 104.64,293.63 105.58,293.44 106.52,293.24 107.46,293.04 108.39,292.84 109.33,292.63 110.27,292.43 111.21,292.22 112.14,292.01 113.08,291.79 114.02,291.57 114.96,291.35 115.89,291.13 116.83,290.90 117.77,290.67 118.71,290.44 119.65,290.21 120.58,289.97 121.52,289.73 122.46,289.49 123.40,289.24 124.33,288.99 125.27,288.74 126.21,288.48 127.15,288.22 128.09,287.96 129.02,287.69 129.96,287.42 130.90,287.15 131.84,286.87 132.77,286.59 133.71,286.30 134.65,286.02 135.59,285.72 136.53,285.43 137.46,285.13 138.40,284.82 139.34,284.52 140.28,284.21 141.21,283.89 142.15,283.57 143.09,283.25 144.03,282.92 144.97,282.59 145.90,282.25 146.84,281.91 147.78,281.56 148.72,281.21 149.65,280.86 150.59,280.50 151.53,280.13 152.47,279.76 153.40,279.39 154.34,279.01 155.28,278.63 156.22,278.24 157.16,277.84 158.09,277.44 159.03,277.04 159.97,276.63 160.91,276.21 161.84,275.79 162.78,275.37 163.72,274.94 164.66,274.50 165.60,274.06 166.53,273.61 167.47,273.16 168.41,272.70 169.35,272.23 170.28,271.76 171.22,271.29 172.16,270.80 173.10,270.32 174.04,269.82 174.97,269.32 175.91,268.82 176.85,268.31 177.79,267.79 178.72,267.26 179.66,266.74 180.60,266.20 181.54,265.66 182.48,265.11 183.41,264.56 184.35,264.00 185.29,263.44 186.23,262.87 187.16,262.29 188.10,261.71 189.04,261.12 189.98,260.53 190.91,259.93 191.85,259.33 192.79,258.72 193.73,258.11 194.67,257.50 195.60,256.87 196.54,256.25 197.48,255.62 198.42,254.99 199.35,254.35 200.29,253.71 201.23,253.07 202.17,252.42 203.11,251.77 204.04,251.12 204.98,250.47 205.92,249.82 206.86,249.16 207.79,248.51 208.73,247.86 209.67,247.20 210.61,246.55 211.55,245.90 212.48,245.26 213.42,244.61 214.36,243.97 215.30,243.34 216.23,242.71 217.17,242.09 218.11,241.47 219.05,240.87 219.99,240.27 220.92,239.68 221.86,239.11 222.80,238.54 223.74,237.99 224.67,237.46 225.61,236.94 226.55,236.44 227.49,235.95 228.42,235.49 229.36,235.05 230.30,234.63 231.24,234.23 232.18,233.87 233.11,233.53 234.05,233.22 234.99,232.94 235.93,232.69 236.86,232.48 237.80,232.30 238.74,232.17 239.68,232.07 240.62,232.01 241.55,232.00 242.49,232.04 243.43,232.12 244.37,232.26 245.30,232.44 246.24,232.68 247.18,232.98 248.12,233.33 249.06,233.74 249.99,234.22 250.93,234.75 251.87,235.35 252.81,236.02 253.74,236.75 254.68,237.56 255.62,238.43 256.56,239.38 257.50,240.40 258.43,241.49 259.37,242.66 260.31,243.90 261.25,245.22 262.18,246.62 263.12,248.09 264.06,249.63 265.00,251.25 265.93,252.95 266.87,254.72 267.81,256.57 268.75,258.48 269.69,260.47 270.62,262.53 271.56,264.65 272.50,266.83 273.44,269.08 274.37,271.39 275.31,273.75 276.25,276.17 277.19,278.63 278.13,281.14 279.06,283.69 280.00,286.27 280.94,288.89 281.88,291.53 282.81,294.20 283.75,296.88 284.69,299.57 285.63,302.27 286.57,304.96 287.50,307.65 288.44,310.33 289.38,312.98 290.32,315.61 291.25,318.21 292.19,320.78 293.13,323.29 294.07,325.76 295.00,328.17 295.94,330.51 296.88,332.79 297.82,334.99 298.76,337.11 299.69,339.14 300.63,341.08 301.57,342.93 302.51,344.67 303.44,346.30 304.38,347.81 305.32,349.22 306.26,350.50 307.20,351.65 308.13,352.68 309.07,353.58 310.01,354.34 310.95,354.97 311.88,355.46 312.82,355.81 313.76,356.02 314.70,356.09 315.64,356.02 316.57,355.81 317.51,355.46 318.45,354.97 319.39,354.34 320.32,353.58 321.26,352.68 322.20,351.65 323.14,350.50 324.08,349.22 325.01,347.82 325.95,346.30 326.89,344.67 327.83,342.93 328.76,341.09 329.70,339.15 330.64,337.12 331.58,335.00 332.51,332.80 333.45,330.53 334.39,328.18 335.33,325.77 336.27,323.31 337.20,320.79 338.14,318.23 339.08,315.63 340.02,313.00 340.95,310.35 341.89,307.67 342.83,304.99 343.77,302.29 344.71,299.60 345.64,296.91 346.58,294.23 347.52,291.57 348.46,288.92 349.39,286.31 350.33,283.73 351.27,281.18 352.21,278.67 353.15,276.21 354.08,273.80 355.02,271.44 355.96,269.14 356.90,266.89 357.83,264.71 358.77,262.59 359.71,260.54 360.65,258.55 361.59,256.64 362.52,254.80 363.46,253.03 364.40,251.33 365.34,249.71 366.27,248.17 367.21,246.70 368.15,245.31 369.09,244.00 370.03,242.76 370.96,241.59 371.90,240.50 372.84,239.49 373.78,238.54 374.71,237.67 375.65,236.87 376.59,236.14 377.53,235.47 378.46,234.87 379.40,234.34 380.34,233.87 381.28,233.46 382.22,233.11 383.15,232.81 384.09,232.58 385.03,232.39 385.97,232.26 386.90,232.18 387.84,232.15 388.78,232.16 389.72,232.21 390.66,232.31 391.59,232.45 392.53,232.63 393.47,232.84 394.41,233.09 395.34,233.37 396.28,233.68 397.22,234.02 398.16,234.39 399.10,234.78 400.03,235.20 400.97,235.64 401.91,236.11 402.85,236.59 403.78,237.09 404.72,237.61 405.66,238.15 406.60,238.70 407.54,239.26 408.47,239.84 409.41,240.42 410.35,241.02 411.29,241.63 412.22,242.24 413.16,242.86 414.10,243.49 415.04,244.13 415.97,244.77 416.91,245.41 417.85,246.05 418.79,246.70 419.73,247.35 420.66,248.00 421.60,248.66 422.54,249.31 423.48,249.96 424.41,250.61 425.35,251.27 426.29,251.91 427.23,252.56 428.17,253.21 429.10,253.85 430.04,254.49 430.98,255.12 431.92,255.76 432.85,256.38 433.79,257.01 434.73,257.63 435.67,258.24 436.61,258.86 437.54,259.46 438.48,260.06 439.42,260.66 440.36,261.25 441.29,261.83 442.23,262.41 443.17,262.99 444.11,263.56 445.05,264.12 445.98,264.68 446.92,265.23 447.86,265.78 448.80,266.32 449.73,266.85 450.67,267.38 451.61,267.90 452.55,268.42 453.48,268.93 454.42,269.43 455.36,269.93 456.30,270.42 457.24,270.91 458.17,271.39 459.11,271.87 460.05,272.34 460.99,272.80 461.92,273.26 462.86,273.71 463.80,274.16 464.74,274.60 465.68,275.03 466.61,275.46 467.55,275.89 468.49,276.31 469.43,276.72 470.36,277.13 471.30,277.53 472.24,277.93 473.18,278.33 474.12,278.71 475.05,279.10 475.99,279.48 476.93,279.85 477.87,280.22 478.80,280.58 479.74,280.94 480.68,281.29 481.62,281.64 482.56,281.99 483.49,282.33 484.43,282.67 485.37,283.00 486.31,283.32 487.24,283.65 488.18,283.97 489.12,284.28 490.06,284.59 490.99,284.90 491.93,285.20 492.87,285.50 493.81,285.80 494.75,286.09 495.68,286.37 496.62,286.66 497.56,286.94 498.50,287.21 499.43,287.49 500.37,287.76 501.31,288.02 502.25,288.29 503.19,288.54 504.12,288.80 505.06,289.05 506.00,289.30 506.94,289.55 507.87,289.79 508.81,290.03 509.75,290.27 510.69,290.50 511.63,290.74 512.56,290.96 513.50,291.19 514.44,291.41 515.38,291.63 516.31,291.85 517.25,292.06 518.19,292.28 519.13,292.48 520.07,292.69 521.00,292.90 521.94,293.10 522.88,293.30 523.82,293.49 524.75,293.69 525.69,293.88 526.63,294.07 527.57,294.26 528.50,294.44 529.44,294.63 530.38,294.81 531.32,294.98 532.26,295.16 533.19,295.34 534.13,295.51 535.07,295.68 536.01,295.85 536.94,296.01 537.88,296.18 538.82,296.34 539.76,296.50 540.70,296.66 541.63,296.82 542.57,296.97 543.51,297.13 544.45,297.28 545.38,297.43 546.32,297.58 547.26,297.72 548.20,297.87 549.14,298.01 550.07,298.15 551.01,298.29 551.95,298.43 552.89,298.57 553.82,298.70 554.76,298.84 555.70,298.97 556.64,299.10 557.58,299.23 558.51,299.36 559.45,299.49 560.39,299.61 561.33,299.74 562.26,299.86 563.20,299.98 564.14,300.10 565.08,300.22 566.01,300.34 566.95,300.45 567.89,300.57 568.83,300.68 569.77,300.79 570.70,300.91 571.64,301.02 572.58,301.12 573.52,301.23 574.45,301.34 575.39,301.45 576.33,301.55 577.27,301.65 578.21,301.76 579.14,301.86 580.08,301.96 581.02,302.06 581.96,302.16 582.89,302.25 583.83,302.35 584.77,302.45 585.71,302.54 586.65,302.63 587.58,302.73 588.52,302.82 589.46,302.91 590.40,303.00 591.33,303.09 592.27,303.18 593.21,303.26 594.15,303.35 595.09,303.43 596.02,303.52 596.96,303.60 597.90,303.69 598.84,303.77 599.77,303.85 600.71,303.93 601.65,304.01 602.59,304.09 603.52,304.17 604.46,304.25 605.40,304.32 606.34,304.40 607.28,304.48 608.21,304.55 609.15,304.62 610.09,304.70 611.03,304.77 611.96,304.84 612.90,304.91 613.84,304.98 614.78,305.05 615.72,305.12 616.65,305.19 617.59,305.26 618.53,305.33 619.47,305.40 620.40,305.46 621.34,305.53 622.28,305.59 623.22,305.66 624.16,305.72 625.09,305.79 626.03,305.85 626.97,305.91 627.91,305.97 628.84,306.03 629.78,306.09 630.72,306.15 631.66,306.21 632.60,306.27 633.53,306.33 634.47,306.39 635.41,306.45 636.35,306.50 637.28,306.56 638.22,306.62 639.16,306.67 640.10,306.73 641.03,306.78 641.97,306.84 642.91,306.89 643.85,306.94 644.79,307.00 645.72,307.05 646.66,307.10 647.60,307.15 648.54,307.20 649.47,307.26 650.41,307.31 651.35,307.36 652.29,307.41 653.23,307.45 654.16,307.50 655.10,307.55 656.04,307.60 656.98,307.65 657.91,307.69 658.85,307.74 659.79,307.79 660.73,307.83 661.67,307.88 662.60,307.92 663.54,307.97 664.48,308.01 665.42,308.06 666.35,308.10 667.29,308.14 668.23,308.19 669.17,308.23 670.11,308.27 671.04,308.32 671.98,308.36 672.92,308.40 673.86,308.44 674.79,308.48 675.73,308.52 676.67,308.56 677.61,308.60 678.54,308.64 679.48,308.68 680.42,308.72 681.36,308.76 682.30,308.80 683.23,308.83 684.17,308.87 685.11,308.91 686.05,308.95 686.98,308.98 687.92,309.02 688.86,309.06 689.80,309.09 690.74,309.13 691.67,309.16 692.61,309.20 693.55,309.23 694.49,309.27 695.42,309.30 696.36,309.34 697.30,309.37 698.24,309.41 699.18,309.44 700.11,309.47 701.05,309.51 701.99,309.54 702.93,309.57 703.86,309.60 704.80,309.64 705.74,309.67 706.68,309.70 707.62,309.73 708.55,309.76 709.49,309.79 710.43,309.82 711.37,309.86 712.30,309.89 713.24,309.92 714.18,309.95 715.12,309.98 716.05,310.00 716.99,310.03 717.93,310.06 718.87,310.09 719.81,310.12 720.74,310.15 721.68,310.18 722.62,310.21 723.56,310.23 724.49,310.26 725.43,310.29 726.37,310.32 727.31,310.34 728.25,310.37 729.18,310.40 730.12,310.42 731.06,310.45 732.00,310.48 732.93,310.50 733.87,310.53 734.81,310.55 735.75,310.58 736.69,310.61 737.62,310.63 738.56,310.66 739.50,310.68 740.44,310.71 741.37,310.73 742.31,310.75 743.25,310.78 744.19,310.80 745.12,310.83 746.06,310.85 747.00,310.87 747.94,310.90 748.88,310.92 749.81,310.94 750.75,310.97 751.69,310.99 752.63,311.01 753.56,311.04 754.50,311.06 755.44,311.08 756.38,311.10 757.32,311.12 758.25,311.15 759.19,311.17 760.13,311.19 761.07,311.21 762.00,311.23 762.94,311.25 763.88,311.27 764.82,311.30 765.76,311.32 766.69,311.34 767.63,311.36 768.57,311.38 769.51,311.40 770.44,311.42 771.38,311.44 772.32,311.46 773.26,311.48 774.20,311.50 775.13,311.52 776.07,311.54 777.01,311.56 777.95,311.58 778.88,311.59 779.82,311.61 780.76,311.63 781.70,311.65 782.63,311.67 783.57,311.69 784.51,311.71 785.45,311.73 786.39,311.74 787.32,311.76 788.26,311.78 789.20,311.80 790.14,311.82 791.07,311.83 792.01,311.85 792.95,311.87 793.89,311.89 794.83,311.90 795.76,311.92 796.70,311.94 797.64,311.95 798.58,311.97 799.51,311.99 800.45,312.00 801.39,312.02 802.33,312.04 803.27,312.05 804.20,312.07 805.14,312.09 806.08,312.10 807.02,312.12 807.95,312.13 808.89,312.15 809.83,312.17 810.77,312.18 811.71,312.20 812.64,312.21 813.58,312.23 814.52,312.24 815.46,312.26 816.39,312.27 817.33,312.29 818.27,312.30 819.21,312.32 820.14,312.33 821.08,312.35 822.02,312.36 822.96,312.38 823.90,312.39 824.83,312.41 825.77,312.42 826.71,312.43 827.65,312.45 828.58,312.46 829.52,312.48 830.46,312.49 831.40,312.50 832.34,312.52 833.27,312.53 834.21,312.55 835.15,312.56 836.09,312.57 837.02,312.59 837.96,312.60 838.90,312.61 839.84,312.63 840.78,312.64 841.71,312.65 842.65,312.66 843.59,312.68 844.53,312.69 845.46,312.70 846.40,312.72 847.34,312.73 848.28,312.74" stroke="#ec0a0a" clip-path="url(#cb)"/>
<path d="M79.32,309.26 L80.26,309.22 81.20,309.19 82.14,309.15 83.07,309.12 84.01,309.08 84.95,309.05 85.89,309.01 86.82,308.97 87.76,308.94 88.70,308.90 89.64,308.86 90.58,308.82 91.51,308.79 92.45,308.75 93.39,308.71 94.33,308.67 95.26,308.63 96.20,308.59 97.14,308.56 98.08,308.52 99.02,308.48 99.95,308.44 100.89,308.39 101.83,308.35 102.77,308.31 103.70,308.27 104.64,308.23 105.58,308.19 106.52,308.14 107.46,308.10 108.39,308.06 109.33,308.01 110.27,307.97 111.21,307.93 112.14,307.88 113.08,307.84 114.02,307.79 114.96,307.75 115.89,307.70 116.83,307.65 117.77,307.61 118.71,307.56 119.65,307.51 120.58,307.46 121.52,307.41 122.46,307.37 123.40,307.32 124.33,307.27 125.27,307.22 126.21,307.17 127.15,307.12 128.09,307.07 129.02,307.01 129.96,306.96 130.90,306.91 131.84,306.86 132.77,306.80 133.71,306.75 134.65,306.69 135.59,306.64 136.53,306.58 137.46,306.53 138.40,306.47 139.34,306.42 140.28,306.36 141.21,306.30 142.15,306.24 143.09,306.18 144.03,306.13 144.97,306.07 145.90,306.01 146.84,305.94 147.78,305.88 148.72,305.82 149.65,305.76 150.59,305.70 151.53,305.63 152.47,305.57 153.40,305.50 154.34,305.44 155.28,305.37 156.22,305.31 157.16,305.24 158.09,305.17 159.03,305.10 159.97,305.04 160.91,304.97 161.84,304.90 162.78,304.83 163.72,304.75 164.66,304.68 165.60,304.61 166.53,304.54 167.47,304.46 168.41,304.39 169.35,304.31 170.28,304.24 171.22,304.16 172.16,304.08 173.10,304.00 174.04,303.92 174.97,303.84 175.91,303.76 176.85,303.68 177.79,303.60 178.72,303.52 179.66,303.43 180.60,303.35 181.54,303.26 182.48,303.18 183.41,303.09 184.35,303.00 185.29,302.91 186.23,302.83 187.16,302.73 188.10,302.64 189.04,302.55 189.98,302.46 190.91,302.36 191.85,302.27 192.79,302.17 193.73,302.08 194.67,301.98 195.60,301.88 196.54,301.78 197.48,301.68 198.42,301.58 199.35,301.47 200.29,301.37 201.23,301.26 202.17,301.16 203.11,301.05 204.04,300.94 204.98,300.83 205.92,300.72 206.86,300.61 207.79,300.49 208.73,300.38 209.67,300.26 210.61,300.15 211.55,300.03 212.48,299.91 213.42,299.79 214.36,299.67 215.30,299.54 216.23,299.42 217.17,299.29 218.11,299.17 219.05,299.04 219.99,298.91 220.92,298.78 221.86,298.64 222.80,298.51 223.74,298.37 224.67,298.24 225.61,298.10 226.55,297.96 227.49,297.81 228.42,297.67 229.36,297.52 230.30,297.38 231.24,297.23 232.18,297.08 233.11,296.93 234.05,296.77 234.99,296.62 235.93,296.46 236.86,296.30 237.80,296.14 238.74,295.98 239.68,295.81 240.62,295.64 241.55,295.48 242.49,295.30 243.43,295.13 244.37,294.96 245.30,294.78 246.24,294.60 247.18,294.42 248.12,294.24 249.06,294.05 249.99,293.86 250.93,293.67 251.87,293.48 252.81,293.29 253.74,293.09 254.68,292.89 255.62,292.69 256.56,292.48 257.50,292.28 258.43,292.07 259.37,291.86 260.31,291.64 261.25,291.42 262.18,291.20 263.12,290.98 264.06,290.76 265.00,290.53 265.93,290.30 266.87,290.06 267.81,289.83 268.75,289.59 269.69,289.34 270.62,289.10 271.56,288.85 272.50,288.59 273.44,288.34 274.37,288.08 275.31,287.82 276.25,287.55 277.19,287.28 278.13,287.01 279.06,286.73 280.00,286.45 280.94,286.17 281.88,285.88 282.81,285.59 283.75,285.30 284.69,285.00 285.63,284.70 286.57,284.39 287.50,284.08 288.44,283.77 289.38,283.45 290.32,283.13 291.25,282.80 292.19,282.47 293.13,282.14 294.07,281.80 295.00,281.45 295.94,281.10 296.88,280.75 297.82,280.39 298.76,280.03 299.69,279.66 300.63,279.29 301.57,278.91 302.51,278.53 303.44,278.15 304.38,277.75 305.32,277.36 306.26,276.95 307.20,276.55 308.13,276.14 309.07,275.72 310.01,275.29 310.95,274.87 311.88,274.43 312.82,273.99 313.76,273.55 314.70,273.10 315.64,272.64 316.57,272.18 317.51,271.71 318.45,271.24 319.39,270.76 320.32,270.27 321.26,269.78 322.20,269.29 323.14,268.78 324.08,268.27 325.01,267.76 325.95,267.24 326.89,266.71 327.83,266.18 328.76,265.64 329.70,265.10 330.64,264.55 331.58,263.99 332.51,263.43 333.45,262.86 334.39,262.29 335.33,261.71 336.27,261.13 337.20,260.54 338.14,259.94 339.08,259.34 340.02,258.74 340.95,258.13 341.89,257.51 342.83,256.89 343.77,256.27 344.71,255.64 345.64,255.00 346.58,254.37 347.52,253.73 348.46,253.08 349.39,252.43 350.33,251.78 351.27,251.13 352.21,250.48 353.15,249.82 354.08,249.16 355.02,248.51 355.96,247.85 356.90,247.19 357.83,246.53 358.77,245.87 359.71,245.22 360.65,244.57 361.59,243.92 362.52,243.27 363.46,242.63 364.40,241.99 365.34,241.36 366.27,240.74 367.21,240.12 368.15,239.52 369.09,238.92 370.03,238.33 370.96,237.76 371.90,237.20 372.84,236.65 373.78,236.12 374.71,235.61 375.65,235.11 376.59,234.63 377.53,234.18 378.46,233.74 379.40,233.33 380.34,232.95 381.28,232.59 382.22,232.26 383.15,231.96 384.09,231.69 385.03,231.46 385.97,231.26 386.90,231.10 387.84,230.98 388.78,230.90 389.72,230.86 390.66,230.87 391.59,230.92 392.53,231.03 393.47,231.18 394.41,231.39 395.34,231.65 396.28,231.96 397.22,232.34 398.16,232.77 399.10,233.27 400.03,233.83 400.97,234.46 401.91,235.15 402.85,235.91 403.78,236.74 404.72,237.64 405.66,238.62 406.60,239.66 407.54,240.78 408.47,241.98 409.41,243.25 410.35,244.59 411.29,246.01 412.22,247.51 413.16,249.08 414.10,250.73 415.04,252.45 415.97,254.25 416.91,256.12 417.85,258.06 418.79,260.07 419.73,262.15 420.66,264.29 421.60,266.50 422.54,268.77 423.48,271.09 424.41,273.47 425.35,275.90 426.29,278.38 427.23,280.90 428.17,283.47 429.10,286.06 430.04,288.69 430.98,291.34 431.92,294.02 432.85,296.70 433.79,299.40 434.73,302.10 435.67,304.80 436.61,307.50 437.54,310.17 438.48,312.83 439.42,315.46 440.36,318.06 441.29,320.62 442.23,323.14 443.17,325.60 444.11,328.00 445.05,330.35 445.98,332.62 446.92,334.82 447.86,336.93 448.80,338.96 449.73,340.89 450.67,342.73 451.61,344.46 452.55,346.09 453.48,347.60 454.42,348.99 455.36,350.27 456.30,351.42 457.24,352.44 458.17,353.34 459.11,354.10 460.05,354.72 460.99,355.21 461.92,355.56 462.86,355.77 463.80,355.84 464.74,355.77 465.68,355.56 466.61,355.21 467.55,354.72 468.49,354.10 469.43,353.34 470.36,352.44 471.30,351.42 472.24,350.27 473.18,348.99 474.12,347.60 475.05,346.09 475.99,344.46 476.93,342.73 477.87,340.89 478.80,338.96 479.74,336.93 480.68,334.82 481.62,332.62 482.56,330.35 483.49,328.00 484.43,325.60 485.37,323.14 486.31,320.62 487.24,318.06 488.18,315.46 489.12,312.83 490.06,310.17 490.99,307.50 491.93,304.80 492.87,302.10 493.81,299.40 494.75,296.70 495.68,294.02 496.62,291.34 497.56,288.69 498.50,286.06 499.43,283.47 500.37,280.90 501.31,278.38 502.25,275.90 503.19,273.47 504.12,271.09 505.06,268.77 506.00,266.50 506.94,264.29 507.87,262.15 508.81,260.07 509.75,258.06 510.69,256.12 511.63,254.25 512.56,252.45 513.50,250.73 514.44,249.08 515.38,247.51 516.31,246.01 517.25,244.59 518.19,243.25 519.13,241.98 520.07,240.78 521.00,239.66 521.94,238.62 522.88,237.64 523.82,236.74 524.75,235.91 525.69,235.15 526.63,234.46 527.57,233.83 528.50,233.27 529.44,232.77 530.38,232.34 531.32,231.96 532.26,231.65 533.19,231.39 534.13,231.18 535.07,231.03 536.01,230.92 536.94,230.87 537.88,230.86 538.82,230.90 539.76,230.98 540.70,231.10 541.63,231.26 542.57,231.46 543.51,231.69 544.45,231.96 545.38,232.26 546.32,232.59 547.26,232.95 548.20,233.33 549.14,233.74 550.07,234.18 551.01,234.63 551.95,235.11 552.89,235.61 553.82,236.12 554.76,236.65 555.70,237.20 556.64,237.76 557.58,238.33 558.51,238.92 559.45,239.52 560.39,240.12 561.33,240.74 562.26,241.36 563.20,241.99 564.14,242.63 565.08,243.27 566.01,243.92 566.95,244.57 567.89,245.22 568.83,245.87 569.77,246.53 570.70,247.19 571.64,247.85 572.58,248.51 573.52,249.16 574.45,249.82 575.39,250.48 576.33,251.13 577.27,251.78 578.21,252.43 579.14,253.08 580.08,253.73 581.02,254.37 581.96,255.00 582.89,255.64 583.83,256.27 584.77,256.89 585.71,257.51 586.65,258.13 587.58,258.74 588.52,259.34 589.46,259.94 590.40,260.54 591.33,261.13 592.27,261.71 593.21,262.29 594.15,262.86 595.09,263.43 596.02,263.99 596.96,264.55 597.90,265.10 598.84,265.64 599.77,266.18 600.71,266.71 601.65,267.24 602.59,267.76 603.52,268.27 604.46,268.78 605.40,269.29 606.34,269.78 607.28,270.27 608.21,270.76 609.15,271.24 610.09,271.71 611.03,272.18 611.96,272.64 612.90,273.10 613.84,273.55 614.78,273.99 615.72,274.43 616.65,274.87 617.59,275.29 618.53,275.72 619.47,276.14 620.40,276.55 621.34,276.95 622.28,277.36 623.22,277.75 624.16,278.15 625.09,278.53 626.03,278.91 626.97,279.29 627.91,279.66 628.84,280.03 629.78,280.39 630.72,280.75 631.66,281.10 632.60,281.45 633.53,281.80 634.47,282.14 635.41,282.47 636.35,282.80 637.28,283.13 638.22,283.45 639.16,283.77 640.10,284.08 641.03,284.39 641.97,284.70 642.91,285.00 643.85,285.30 644.79,285.59 645.72,285.88 646.66,286.17 647.60,286.45 648.54,286.73 649.47,287.01 650.41,287.28 651.35,287.55 652.29,287.82 653.23,288.08 654.16,288.34 655.10,288.59 656.04,288.85 656.98,289.10 657.91,289.34 658.85,289.59 659.79,289.83 660.73,290.06 661.67,290.30 662.60,290.53 663.54,290.76 664.48,290.98 665.42,291.20 666.35,291.42 667.29,291.64 668.23,291.86 669.17,292.07 670.11,292.28 671.04,292.48 671.98,292.69 672.92,292.89 673.86,293.09 674.79,293.29 675.73,293.48 676.67,293.67 677.61,293.86 678.54,294.05 679.48,294.24 680.42,294.42 681.36,294.60 682.30,294.78 683.23,294.96 684.17,295.13 685.11,295.30 686.05,295.48 686.98,295.64 687.92,295.81 688.86,295.98 689.80,296.14 690.74,296.30 691.67,296.46 692.61,296.62 693.55,296.77 694.49,296.93 695.42,297.08 696.36,297.23 697.30,297.38 698.24,297.52 699.18,297.67 700.11,297.81 701.05,297.96 701.99,298.10 702.93,298.24 703.86,298.37 704.80,298.51 705.74,298.64 706.68,298.78 707.62,298.91 708.55,299.04 709.49,299.17 710.43,299.29 711.37,299.42 712.30,299.54 713.24,299.67 714.18,299.79 715.12,299.91 716.05,300.03 716.99,300.15 717.93,300.26 718.87,300.38 719.81,300.49 720.74,300.61 721.68,300.72 722.62,300.83 723.56,300.94 724.49,301.05 725.43,301.16 726.37,301.26 727.31,301.37 728.25,301.47 729.18,301.58 730.12,301.68 731.06,301.78 732.00,301.88 732.93,301.98 733.87,302.08 734.81,302.17 735.75,302.27 736.69,302.36 737.62,302.46 738.56,302.55 739.50,302.64 740.44,302.73 741.37,302.83 742.31,302.91 743.25,303.00 744.19,303.09 745.12,303.18 746.06,303.26 747.00,303.35 747.94,303.43 748.88,303.52 749.81,303.60 750.75,303.68 751.69,303.76 752.63,303.84 753.56,303.92 754.50,304.00 755.44,304.08 756.38,304.16 757.32,304.24 758.25,304.31 759.19,304.39 760.13,304.46 761.07,304.54 762.00,304.61 762.94,304.68 763.88,304.75 764.82,304.83 765.76,304.90 766.69,304.97 767.63,305.04 768.57,305.10 769.51,305.17 770.44,305.24 771.38,305.31 772.32,305.37 773.26,305.44 774.20,305.50 775.13,305.57 776.07,305.63 777.01,305.70 777.95,305.76 778.88,305.82 779.82,305.88 780.76,305.94 781.70,306.01 782.63,306.07 783.57,306.13 784.51,306.18 785.45,306.24 786.39,306.30 787.32,306.36 788.26,306.42 789.20,306.47 790.14,306.53 791.07,306.58 792.01,306.64 792.95,306.69 793.89,306.75 794.83,306.80 795.76,306.86 796.70,306.91 797.64,306.96 798.58,307.01 799.51,307.07 800.45,307.12 801.39,307.17 802.33,307.22 803.27,307.27 804.20,307.32 805.14,307.37 806.08,307.41 807.02,307.46 807.95,307.51 808.89,307.56 809.83,307.61 810.77,307.65 811.71,307.70 812.64,307.75 813.58,307.79 814.52,307.84 815.46,307.88 816.39,307.93 817.33,307.97 818.27,308.01 819.21,308.06 820.14,308.10 821.08,308.14 822.02,308.19 822.96,308.23 823.90,308.27 824.83,308.31 825.77,308.35 826.71,308.39 827.65,308.44 828.58,308.48 829.52,308.52 830.46,308.56 831.40,308.59 832.34,308.63 833.27,308.67 834.21,308.71 835.15,308.75 836.09,308.79 837.02,308.82 837.96,308.86 838.90,308.90 839.84,308.94 840.78,308.97 841.71,309.01 842.65,309.05 843.59,309.08 844.53,309.12 845.46,309.15 846.40,309.19 847.34,309.22 848.28,309.26" stroke="#000000" clip-path="url(#cb)"/>
<path d="M79.32,312.58 L80.26,312.57 81.20,312.56 82.14,312.54 83.07,312.53 84.01,312.52 84.95,312.50 85.89,312.49 86.82,312.48 87.76,312.46 88.70,312.45 89.64,312.44 90.58,312.42 91.51,312.41 92.45,312.39 93.39,312.38 94.33,312.37 95.26,312.35 96.20,312.34 97.14,312.32 98.08,312.31 99.02,312.29 99.95,312.28 100.89,312.26 101.83,312.25 102.77,312.23 103.70,312.22 104.64,312.20 105.58,312.19 106.52,312.17 107.46,312.16 108.39,312.14 109.33,312.13 110.27,312.11 111.21,312.10 112.14,312.08 113.08,312.06 114.02,312.05 114.96,312.03 115.89,312.02 116.83,312.00 117.77,311.98 118.71,311.97 119.65,311.95 120.58,311.93 121.52,311.92 122.46,311.90 123.40,311.88 124.33,311.87 125.27,311.85 126.21,311.83 127.15,311.82 128.09,311.80 129.02,311.78 129.96,311.76 130.90,311.75 131.84,311.73 132.77,311.71 133.71,311.69 134.65,311.67 135.59,311.66 136.53,311.64 137.46,311.62 138.40,311.60 139.34,311.58 140.28,311.56 141.21,311.55 142.15,311.53 143.09,311.51 144.03,311.49 144.97,311.47 145.90,311.45 146.84,311.43 147.78,311.41 148.72,311.39 149.65,311.37 150.59,311.35 151.53,311.33 152.47,311.31 153.40,311.29 154.34,311.27 155.28,311.25 156.22,311.23 157.16,311.21 158.09,311.19 159.03,311.17 159.97,311.14 160.91,311.12 161.84,311.10 162.78,311.08 163.72,311.06 164.66,311.04 165.60,311.01 166.53,310.99 167.47,310.97 168.41,310.95 169.35,310.92 170.28,310.90 171.22,310.88 172.16,310.86 173.10,310.83 174.04,310.81 174.97,310.79 175.91,310.76 176.85,310.74 177.79,310.71 178.72,310.69 179.66,310.67 180.60,310.64 181.54,310.62 182.48,310.59 183.41,310.57 184.35,310.54 185.29,310.52 186.23,310.49 187.16,310.47 188.10,310.44 189.04,310.42 189.98,310.39 190.91,310.36 191.85,310.34 192.79,310.31 193.73,310.28 194.67,310.26 195.60,310.23 196.54,310.20 197.48,310.17 198.42,310.15 199.35,310.12 200.29,310.09 201.23,310.06 202.17,310.03 203.11,310.01 204.04,309.98 204.98,309.95 205.92,309.92 206.86,309.89 207.79,309.86 208.73,309.83 209.67,309.80 210.61,309.77 211.55,309.74 212.48,309.71 213.42,309.68 214.36,309.65 215.30,309.62 216.23,309.58 217.17,309.55 218.11,309.52 219.05,309.49 219.99,309.46 220.92,309.42 221.86,309.39 222.80,309.36 223.74,309.32 224.67,309.29 225.61,309.26 226.55,309.22 227.49,309.19 228.42,309.15 229.36,309.12 230.30,309.08 231.24,309.05 232.18,309.01 233.11,308.98 234.05,308.94 234.99,308.90 235.93,308.87 236.86,308.83 237.80,308.79 238.74,308.76 239.68,308.72 240.62,308.68 241.55,308.64 242.49,308.60 243.43,308.56 244.37,308.53 245.30,308.49 246.24,308.45 247.18,308.41 248.12,308.37 249.06,308.32 249.99,308.28 250.93,308.24 251.87,308.20 252.81,308.16 253.74,308.12 254.68,308.07 255.62,308.03 256.56,307.99 257.50,307.94 258.43,307.90 259.37,307.86 260.31,307.81 261.25,307.77 262.18,307.72 263.12,307.67 264.06,307.63 265.00,307.58 265.93,307.54 266.87,307.49 267.81,307.44 268.75,307.39 269.69,307.34 270.62,307.30 271.56,307.25 272.50,307.20 273.44,307.15 274.37,307.10 275.31,307.05 276.25,306.99 277.19,306.94 278.13,306.89 279.06,306.84 280.00,306.78 280.94,306.73 281.88,306.68 282.81,306.62 283.75,306.57 284.69,306.51 285.63,306.46 286.57,306.40 287.50,306.34 288.44,306.29 289.38,306.23 290.32,306.17 291.25,306.11 292.19,306.05 293.13,305.99 294.07,305.93 295.00,305.87 295.94,305.81 296.88,305.75 297.82,305.69 298.76,305.63 299.69,305.56 300.63,305.50 301.57,305.43 302.51,305.37 303.44,305.30 304.38,305.24 305.32,305.17 306.26,305.10 307.20,305.04 308.13,304.97 309.07,304.90 310.01,304.83 310.95,304.76 311.88,304.69 312.82,304.61 313.76,304.54 314.70,304.47 315.64,304.40 316.57,304.32 317.51,304.25 318.45,304.17 319.39,304.09 320.32,304.02 321.26,303.94 322.20,303.86 323.14,303.78 324.08,303.70 325.01,303.62 325.95,303.54 326.89,303.45 327.83,303.37 328.76,303.29 329.70,303.20 330.64,303.12 331.58,303.03 332.51,302.94 333.45,302.85 334.39,302.76 335.33,302.67 336.27,302.58 337.20,302.49 338.14,302.40 339.08,302.30 340.02,302.21 340.95,302.11 341.89,302.02 342.83,301.92 343.77,301.82 344.71,301.72 345.64,301.62 346.58,301.52 347.52,301.42 348.46,301.31 349.39,301.21 350.33,301.10 351.27,301.00 352.21,300.89 353.15,300.78 354.08,300.67 355.02,300.56 355.96,300.45 356.90,300.33 357.83,300.22 358.77,300.10 359.71,299.99 360.65,299.87 361.59,299.75 362.52,299.63 363.46,299.50 364.40,299.38 365.34,299.26 366.27,299.13 367.21,299.00 368.15,298.87 369.09,298.74 370.03,298.61 370.96,298.48 371.90,298.34 372.84,298.21 373.78,298.07 374.71,297.93 375.65,297.79 376.59,297.64 377.53,297.50 378.46,297.35 379.40,297.21 380.34,297.06 381.28,296.91 382.22,296.76 383.15,296.60 384.09,296.45 385.03,296.29 385.97,296.13 386.90,295.97 387.84,295.80 388.78,295.64 389.72,295.47 390.66,295.30 391.59,295.13 392.53,294.96 393.47,294.78 394.41,294.61 395.34,294.43 396.28,294.25 397.22,294.06 398.16,293.88 399.10,293.69 400.03,293.50 400.97,293.31 401.91,293.11 402.85,292.92 403.78,292.72 404.72,292.51 405.66,292.31 406.60,292.10 407.54,291.89 408.47,291.68 409.41,291.47 410.35,291.25 411.29,291.03 412.22,290.81 413.16,290.58 414.10,290.36 415.04,290.12 415.97,289.89 416.91,289.65 417.85,289.41 418.79,289.17 419.73,288.93 420.66,288.68 421.60,288.42 422.54,288.17 423.48,287.91 424.41,287.65 425.35,287.38 426.29,287.12 427.23,286.84 428.17,286.57 429.10,286.29 430.04,286.01 430.98,285.72 431.92,285.43 432.85,285.14 433.79,284.84 434.73,284.54 435.67,284.23 436.61,283.92 437.54,283.61 438.48,283.29 439.42,282.97 440.36,282.65 441.29,282.32 442.23,281.98 443.17,281.65 444.11,281.30 445.05,280.96 445.98,280.60 446.92,280.25 447.86,279.89 448.80,279.52 449.73,279.15 450.67,278.77 451.61,278.39 452.55,278.01 453.48,277.62 454.42,277.22 455.36,276.82 456.30,276.42 457.24,276.01 458.17,275.59 459.11,275.17 460.05,274.74 460.99,274.31 461.92,273.87 462.86,273.43 463.80,272.98 464.74,272.53 465.68,272.07 466.61,271.60 467.55,271.13 468.49,270.65 469.43,270.17 470.36,269.68 471.30,269.19 472.24,268.69 473.18,268.18 474.12,267.67 475.05,267.15 475.99,266.63 476.93,266.10 477.87,265.56 478.80,265.02 479.74,264.47 480.68,263.92 481.62,263.36 482.56,262.79 483.49,262.22 484.43,261.64 485.37,261.06 486.31,260.47 487.24,259.88 488.18,259.28 489.12,258.67 490.06,258.06 490.99,257.45 491.93,256.83 492.87,256.20 493.81,255.57 494.75,254.94 495.68,254.30 496.62,253.66 497.56,253.02 498.50,252.37 499.43,251.71 500.37,251.06 501.31,250.40 502.25,249.74 503.19,249.08 504.12,248.42 505.06,247.75 506.00,247.09 506.94,246.42 507.87,245.76 508.81,245.09 509.75,244.43 510.69,243.77 511.63,243.11 512.56,242.46 513.50,241.81 514.44,241.17 515.38,240.53 516.31,239.90 517.25,239.27 518.19,238.65 519.13,238.05 520.07,237.45 521.00,236.87 521.94,236.29 522.88,235.74 523.82,235.19 524.75,234.66 525.69,234.15 526.63,233.66 527.57,233.19 528.50,232.74 529.44,232.31 530.38,231.91 531.32,231.54 532.26,231.19 533.19,230.87 534.13,230.58 535.07,230.33 536.01,230.11 536.94,229.92 537.88,229.78 538.82,229.67 539.76,229.61 540.70,229.59 541.63,229.61 542.57,229.69 543.51,229.81 544.45,229.99 545.38,230.21 546.32,230.50 547.26,230.84 548.20,231.24 549.14,231.70 550.07,232.22 551.01,232.81 551.95,233.46 552.89,234.18 553.82,234.97 554.76,235.83 555.70,236.76 556.64,237.76 557.58,238.84 558.51,239.99 559.45,241.21 560.39,242.51 561.33,243.88 562.26,245.33 563.20,246.86 564.14,248.46 565.08,250.14 566.01,251.89 566.95,253.71 567.89,255.61 568.83,257.57 569.77,259.61 570.70,261.71 571.64,263.88 572.58,266.11 573.52,268.40 574.45,270.75 575.39,273.15 576.33,275.60 577.27,278.09 578.21,280.63 579.14,283.21 580.08,285.82 581.02,288.46 581.96,291.13 582.89,293.81 583.83,296.51 584.77,299.21 585.71,301.92 586.65,304.63 587.58,307.32 588.52,310.00 589.46,312.66 590.40,315.30 591.33,317.90 592.27,320.46 593.21,322.97 594.15,325.43 595.09,327.83 596.02,330.17 596.96,332.44 597.90,334.63 598.84,336.74 599.77,338.76 600.71,340.69 601.65,342.53 602.59,344.25 603.52,345.87 604.46,347.38 605.40,348.77 606.34,350.04 607.28,351.19 608.21,352.21 609.15,353.10 610.09,353.86 611.03,354.48 611.96,354.96 612.90,355.31 613.84,355.52 614.78,355.59 615.72,355.52 616.65,355.31 617.59,354.96 618.53,354.48 619.47,353.85 620.40,353.10 621.34,352.21 622.28,351.19 623.22,350.04 624.16,348.77 625.09,347.38 626.03,345.87 626.97,344.25 627.91,342.52 628.84,340.69 629.78,338.76 630.72,336.73 631.66,334.62 632.60,332.43 633.53,330.16 634.47,327.82 635.41,325.42 636.35,322.96 637.28,320.44 638.22,317.88 639.16,315.28 640.10,312.64 641.03,309.98 641.97,307.30 642.91,304.60 643.85,301.90 644.79,299.19 645.72,296.48 646.66,293.78 647.60,291.09 648.54,288.43 649.47,285.78 650.41,283.17 651.35,280.59 652.29,278.05 653.23,275.55 654.16,273.10 655.10,270.70 656.04,268.35 656.98,266.05 657.91,263.82 658.85,261.65 659.79,259.55 660.73,257.51 661.67,255.54 662.60,253.64 663.54,251.81 664.48,250.06 665.42,248.38 666.35,246.78 667.29,245.25 668.23,243.79 669.17,242.42 670.11,241.11 671.04,239.89 671.98,238.73 672.92,237.66 673.86,236.65 674.79,235.72 675.73,234.86 676.67,234.07 677.61,233.34 678.54,232.69 679.48,232.10 680.42,231.57 681.36,231.11 682.30,230.71 683.23,230.36 684.17,230.08 685.11,229.85 686.05,229.67 686.98,229.55 687.92,229.47 688.86,229.44 689.80,229.46 690.74,229.52 691.67,229.63 692.61,229.77 693.55,229.95 694.49,230.17 695.42,230.43 696.36,230.71 697.30,231.03 698.24,231.38 699.18,231.75 700.11,232.16 701.05,232.58 701.99,233.03 702.93,233.50 703.86,233.99 704.80,234.51 705.74,235.03 706.68,235.58 707.62,236.14 708.55,236.71 709.49,237.29 710.43,237.89 711.37,238.50 712.30,239.11 713.24,239.74 714.18,240.37 715.12,241.01 716.05,241.66 716.99,242.31 717.93,242.96 718.87,243.62 719.81,244.28 720.74,244.94 721.68,245.61 722.62,246.27 723.56,246.94 724.49,247.60 725.43,248.27 726.37,248.93 727.31,249.60 728.25,250.26 729.18,250.92 730.12,251.57 731.06,252.23 732.00,252.88 732.93,253.52 733.87,254.17 734.81,254.80 735.75,255.44 736.69,256.07 737.62,256.70 738.56,257.32 739.50,257.93 740.44,258.54 741.37,259.15 742.31,259.75 743.25,260.35 744.19,260.93 745.12,261.52 746.06,262.10 747.00,262.67 747.94,263.24 748.88,263.80 749.81,264.35 750.75,264.90 751.69,265.44 752.63,265.98 753.56,266.51 754.50,267.04 755.44,267.56 756.38,268.07 757.32,268.58 758.25,269.08 759.19,269.58 760.13,270.07 761.07,270.55 762.00,271.03 762.94,271.50 763.88,271.97 764.82,272.43 765.76,272.88 766.69,273.33 767.63,273.78 768.57,274.21 769.51,274.65 770.44,275.08 771.38,275.50 772.32,275.91 773.26,276.33 774.20,276.73 775.13,277.13 776.07,277.53 777.01,277.92 777.95,278.31 778.88,278.69 779.82,279.06 780.76,279.43 781.70,279.80 782.63,280.16 783.57,280.52 784.51,280.87 785.45,281.22 786.39,281.56 787.32,281.90 788.26,282.24 789.20,282.57 790.14,282.89 791.07,283.22 792.01,283.53 792.95,283.85 793.89,284.16 794.83,284.46 795.76,284.77 796.70,285.06 797.64,285.36 798.58,285.65 799.51,285.94 800.45,286.22 801.39,286.50 802.33,286.77 803.27,287.05 804.20,287.32 805.14,287.58 806.08,287.84 807.02,288.10 807.95,288.36 808.89,288.61 809.83,288.86 810.77,289.11 811.71,289.35 812.64,289.59 813.58,289.83 814.52,290.06 815.46,290.29 816.39,290.52 817.33,290.75 818.27,290.97 819.21,291.19 820.14,291.41 821.08,291.62 822.02,291.84 822.96,292.05 823.90,292.25 824.83,292.46 825.77,292.66 826.71,292.86 827.65,293.06 828.58,293.25 829.52,293.45 830.46,293.64 831.40,293.82 832.34,294.01 833.27,294.19 834.21,294.38 835.15,294.56 836.09,294.73 837.02,294.91 837.96,295.08 838.90,295.25 839.84,295.42 840.78,295.59 841.71,295.75 842.65,295.92 843.59,296.08 844.53,296.24 845.46,296.40 846.40,296.55 847.34,296.71 848.28,296.86" stroke="#0606e0" clip-path="url(#cb)"/>
<path d="M79.32,510.96 L80.26,510.65 81.20,510.33 82.14,510.01 83.07,509.68 84.01,509.35 84.95,509.02 85.89,508.69 86.82,508.35 87.76,508.02 88.70,507.68 89.64,507.33 90.58,506.98 91.51,506.64 92.45,506.28 93.39,505.93 94.33,505.57 95.26,505.21 96.20,504.85 97.14,504.48 98.08,504.11 99.02,503.74 99.95,503.36 100.89,502.98 101.83,502.60 102.77,502.21 103.70,501.83 104.64,501.44 105.58,501.04 106.52,500.64 107.46,500.24 108.39,499.84 109.33,499.43 110.27,499.02 111.21,498.61 112.14,498.19 113.08,497.77 114.02,497.35 114.96,496.92 115.89,496.49 116.83,496.06 117.77,495.62 118.71,495.18 119.65,494.74 120.58,494.29 121.52,493.84 122.46,493.39 123.40,492.93 124.33,492.47 125.27,492.01 126.21,491.54 127.15,491.07 128.09,490.60 129.02,490.12 129.96,489.64 130.90,489.15 131.84,488.67 132.77,488.17 133.71,487.68 134.65,487.18 135.59,486.68 136.53,486.17 137.46,485.67 138.40,485.15 139.34,484.64 140.28,484.12 141.21,483.60 142.15,483.07 143.09,482.54 144.03,482.01 144.97,481.47 145.90,480.93 146.84,480.39 147.78,479.85 148.72,479.30 149.65,478.75 150.59,478.19 151.53,477.63 152.47,477.07 153.40,476.51 154.34,475.94 155.28,475.37 156.22,474.80 157.16,474.22 158.09,473.64 159.03,473.06 159.97,472.48 160.91,471.89 161.84,471.30 162.78,470.71 163.72,470.12 164.66,469.52 165.60,468.92 166.53,468.32 167.47,467.72 168.41,467.12 169.35,466.51 170.28,465.91 171.22,465.30 172.16,464.69 173.10,464.08 174.04,463.47 174.97,462.85 175.91,462.24 176.85,461.63 177.79,461.01 178.72,460.40 179.66,459.79 180.60,459.17 181.54,458.56 182.48,457.95 183.41,457.34 184.35,456.72 185.29,456.12 186.23,455.51 187.16,454.90 188.10,454.30 189.04,453.70 189.98,453.10 190.91,452.50 191.85,451.91 192.79,451.32 193.73,450.73 194.67,450.15 195.60,449.58 196.54,449.00 197.48,448.44 198.42,447.87 199.35,447.32 200.29,446.77 201.23,446.23 202.17,445.69 203.11,445.17 204.04,444.65 204.98,444.14 205.92,443.63 206.86,443.14 207.79,442.66 208.73,442.18 209.67,441.72 210.61,441.27 211.55,440.83 212.48,440.41 213.42,440.00 214.36,439.60 215.30,439.21 216.23,438.84 217.17,438.48 218.11,438.14 219.05,437.82 219.99,437.52 220.92,437.23 221.86,436.96 222.80,436.71 223.74,436.48 224.67,436.27 225.61,436.08 226.55,435.91 227.49,435.77 228.42,435.65 229.36,435.55 230.30,435.48 231.24,435.43 232.18,435.41 233.11,435.41 234.05,435.45 234.99,435.51 235.93,435.60 236.86,435.72 237.80,435.88 238.74,436.06 239.68,436.28 240.62,436.53 241.55,436.81 242.49,437.13 243.43,437.48 244.37,437.87 245.30,438.30 246.24,438.76 247.18,439.27 248.12,439.81 249.06,440.40 249.99,441.02 250.93,441.69 251.87,442.40 252.81,443.15 253.74,443.95 254.68,444.80 255.62,445.69 256.56,446.62 257.50,447.60 258.43,448.64 259.37,449.72 260.31,450.85 261.25,452.03 262.18,453.26 263.12,454.54 264.06,455.88 265.00,457.26 265.93,458.70 266.87,460.20 267.81,461.75 268.75,463.35 269.69,465.01 270.62,466.72 271.56,468.49 272.50,470.31 273.44,472.19 274.37,474.12 275.31,476.10 276.25,478.15 277.19,480.24 278.13,482.39 279.06,484.59 280.00,486.84 280.94,489.14 281.88,491.48 282.81,493.87 283.75,496.31 284.69,498.78 285.63,501.29 286.57,503.84 287.50,506.41 288.44,509.01 289.38,511.64 290.32,514.27 291.25,516.92 292.19,519.57 293.13,522.22 294.07,524.86 295.00,527.48 295.94,530.07 296.88,532.63 297.82,535.15 298.76,537.61 299.69,540.01 300.63,542.33 301.57,544.57 302.51,546.71 303.44,548.75 304.38,550.68 305.32,552.47 306.26,554.13 307.20,555.65 308.13,557.00 309.07,558.20 310.01,559.22 310.95,560.07 311.88,560.74 312.82,561.22 313.76,561.50 314.70,561.60 315.64,561.50 316.57,561.21 317.51,560.73 318.45,560.07 319.39,559.22 320.32,558.19 321.26,557.00 322.20,555.64 323.14,554.12 324.08,552.46 325.01,550.66 325.95,548.74 326.89,546.70 327.83,544.56 328.76,542.32 329.70,539.99 330.64,537.59 331.58,535.13 332.51,532.62 333.45,530.06 334.39,527.46 335.33,524.84 336.27,522.20 337.20,519.55 338.14,516.90 339.08,514.25 340.02,511.61 340.95,508.99 341.89,506.39 342.83,503.81 343.77,501.26 344.71,498.75 345.64,496.28 346.58,493.84 347.52,491.45 348.46,489.10 349.39,486.80 350.33,484.55 351.27,482.35 352.21,480.21 353.15,478.11 354.08,476.07 355.02,474.08 355.96,472.15 356.90,470.27 357.83,468.45 358.77,466.68 359.71,464.97 360.65,463.31 361.59,461.71 362.52,460.16 363.46,458.66 364.40,457.22 365.34,455.84 366.27,454.50 367.21,453.22 368.15,451.99 369.09,450.81 370.03,449.68 370.96,448.60 371.90,447.57 372.84,446.58 373.78,445.65 374.71,444.76 375.65,443.91 376.59,443.11 377.53,442.36 378.46,441.65 379.40,440.98 380.34,440.36 381.28,439.77 382.22,439.23 383.15,438.73 384.09,438.26 385.03,437.83 385.97,437.44 386.90,437.09 387.84,436.77 388.78,436.49 389.72,436.24 390.66,436.02 391.59,435.84 392.53,435.69 393.47,435.57 394.41,435.48 395.34,435.42 396.28,435.38 397.22,435.38 398.16,435.40 399.10,435.45 400.03,435.52 400.97,435.62 401.91,435.74 402.85,435.88 403.78,436.05 404.72,436.24 405.66,436.45 406.60,436.68 407.54,436.93 408.47,437.20 409.41,437.49 410.35,437.80 411.29,438.12 412.22,438.46 413.16,438.82 414.10,439.19 415.04,439.58 415.97,439.98 416.91,440.39 417.85,440.82 418.79,441.26 419.73,441.71 420.66,442.17 421.60,442.64 422.54,443.13 423.48,443.62 424.41,444.12 425.35,444.63 426.29,445.15 427.23,445.68 428.17,446.22 429.10,446.76 430.04,447.31 430.98,447.87 431.92,448.43 432.85,448.99 433.79,449.57 434.73,450.14 435.67,450.73 436.61,451.31 437.54,451.90 438.48,452.50 439.42,453.09 440.36,453.69 441.29,454.29 442.23,454.90 443.17,455.50 444.11,456.11 445.05,456.72 445.98,457.33 446.92,457.94 447.86,458.56 448.80,459.17 449.73,459.79 450.67,460.40 451.61,461.01 452.55,461.63 453.48,462.24 454.42,462.85 455.36,463.47 456.30,464.08 457.24,464.69 458.17,465.30 459.11,465.91 460.05,466.51 460.99,467.12 461.92,467.72 462.86,468.33 463.80,468.93 464.74,469.52 465.68,470.12 466.61,470.71 467.55,471.30 468.49,471.89 469.43,472.48 470.36,473.06 471.30,473.65 472.24,474.22 473.18,474.80 474.12,475.37 475.05,475.94 475.99,476.51 476.93,477.08 477.87,477.64 478.80,478.20 479.74,478.75 480.68,479.30 481.62,479.85 482.56,480.40 483.49,480.94 484.43,481.48 485.37,482.02 486.31,482.55 487.24,483.08 488.18,483.60 489.12,484.13 490.06,484.64 490.99,485.16 491.93,485.67 492.87,486.18 493.81,486.69 494.75,487.19 495.68,487.69 496.62,488.18 497.56,488.67 498.50,489.16 499.43,489.65 500.37,490.13 501.31,490.60 502.25,491.08 503.19,491.55 504.12,492.02 505.06,492.48 506.00,492.94 506.94,493.40 507.87,493.85 508.81,494.30 509.75,494.75 510.69,495.19 511.63,495.63 512.56,496.07 513.50,496.50 514.44,496.93 515.38,497.36 516.31,497.78 517.25,498.20 518.19,498.62 519.13,499.03 520.07,499.44 521.00,499.85 521.94,500.25 522.88,500.65 523.82,501.05 524.75,501.44 525.69,501.83 526.63,502.22 527.57,502.61 528.50,502.99 529.44,503.37 530.38,503.74 531.32,504.12 532.26,504.49 533.19,504.85 534.13,505.22 535.07,505.58 536.01,505.94 536.94,506.29 537.88,506.64 538.82,506.99 539.76,507.34 540.70,507.68 541.63,508.02 542.57,508.36 543.51,508.70 544.45,509.03 545.38,509.36 546.32,509.69 547.26,510.01 548.20,510.33 549.14,510.65 550.07,510.97 551.01,511.29 551.95,511.60 552.89,511.91 553.82,512.21 554.76,512.52 555.70,512.82 556.64,513.12 557.58,513.42 558.51,513.71 559.45,514.00 560.39,514.29 561.33,514.58 562.26,514.86 563.20,515.15 564.14,515.43 565.08,515.71 566.01,515.98 566.95,516.26 567.89,516.53 568.83,516.80 569.77,517.07 570.70,517.33 571.64,517.59 572.58,517.85 573.52,518.11 574.45,518.37 575.39,518.63 576.33,518.88 577.27,519.13 578.21,519.38 579.14,519.62 580.08,519.87 581.02,520.11 581.96,520.35 582.89,520.59 583.83,520.83 584.77,521.06 585.71,521.30 586.65,521.53 587.58,521.76 588.52,521.99 589.46,522.21 590.40,522.44 591.33,522.66 592.27,522.88 593.21,523.10 594.15,523.32 595.09,523.53 596.02,523.75 596.96,523.96 597.90,524.17 598.84,524.38 599.77,524.59 600.71,524.79 601.65,525.00 602.59,525.20 603.52,525.40 604.46,525.60 605.40,525.80 606.34,526.00 607.28,526.19 608.21,526.39 609.15,526.58 610.09,526.77 611.03,526.96 611.96,527.15 612.90,527.33 613.84,527.52 614.78,527.70 615.72,527.88 616.65,528.06 617.59,528.24 618.53,528.42 619.47,528.60 620.40,528.77 621.34,528.95 622.28,529.12 623.22,529.29 624.16,529.46 625.09,529.63 626.03,529.80 626.97,529.97 627.91,530.13 628.84,530.30 629.78,530.46 630.72,530.62 631.66,530.78 632.60,530.94 633.53,531.10 634.47,531.26 635.41,531.41 636.35,531.57 637.28,531.72 638.22,531.87 639.16,532.02 640.10,532.18 641.03,532.32 641.97,532.47 642.91,532.62 643.85,532.77 644.79,532.91 645.72,533.05 646.66,533.20 647.60,533.34 648.54,533.48 649.47,533.62 650.41,533.76 651.35,533.90 652.29,534.03 653.23,534.17 654.16,534.31 655.10,534.44 656.04,534.57 656.98,534.71 657.91,534.84 658.85,534.97 659.79,535.10 660.73,535.23 661.67,535.35 662.60,535.48 663.54,535.61 664.48,535.73 665.42,535.86 666.35,535.98 667.29,536.10 668.23,536.22 669.17,536.34 670.11,536.46 671.04,536.58 671.98,536.70 672.92,536.82 673.86,536.94 674.79,537.05 675.73,537.17 676.67,537.28 677.61,537.40 678.54,537.51 679.48,537.62 680.42,537.73 681.36,537.84 682.30,537.95 683.23,538.06 684.17,538.17 685.11,538.28 686.05,538.39 686.98,538.49 687.92,538.60 688.86,538.70 689.80,538.81 690.74,538.91 691.67,539.01 692.61,539.11 693.55,539.22 694.49,539.32 695.42,539.42 696.36,539.52 697.30,539.62 698.24,539.71 699.18,539.81 700.11,539.91 701.05,540.01 701.99,540.10 702.93,540.20 703.86,540.29 704.80,540.39 705.74,540.48 706.68,540.57 707.62,540.66 708.55,540.76 709.49,540.85 710.43,540.94 711.37,541.03 712.30,541.12 713.24,541.20 714.18,541.29 715.12,541.38 716.05,541.47 716.99,541.55 717.93,541.64 718.87,541.73 719.81,541.81 720.74,541.89 721.68,541.98 722.62,542.06 723.56,542.14 724.49,542.23 725.43,542.31 726.37,542.39 727.31,542.47 728.25,542.55 729.18,542.63 730.12,542.71 731.06,542.79 732.00,542.87 732.93,542.95 733.87,543.02 734.81,543.10 735.75,543.18 736.69,543.25 737.62,543.33 738.56,543.40 739.50,543.48 740.44,543.55 741.37,543.63 742.31,543.70 743.25,543.77 744.19,543.85 745.12,543.92 746.06,543.99 747.00,544.06 747.94,544.13 748.88,544.20 749.81,544.27 750.75,544.34 751.69,544.41 752.63,544.48 753.56,544.55 754.50,544.62 755.44,544.68 756.38,544.75 757.32,544.82 758.25,544.88 759.19,544.95 760.13,545.02 761.07,545.08 762.00,545.15 762.94,545.21 763.88,545.27 764.82,545.34 765.76,545.40 766.69,545.46 767.63,545.53 768.57,545.59 769.51,545.65 770.44,545.71 771.38,545.77 772.32,545.84 773.26,545.90 774.20,545.96 775.13,546.02 776.07,546.08 777.01,546.13 777.95,546.19 778.88,546.25 779.82,546.31 780.76,546.37 781.70,546.43 782.63,546.48 783.57,546.54 784.51,546.60 785.45,546.65 786.39,546.71 787.32,546.77 788.26,546.82 789.20,546.88 790.14,546.93 791.07,546.98 792.01,547.04 792.95,547.09 793.89,547.15 794.83,547.20 795.76,547.25 796.70,547.31 797.64,547.36 798.58,547.41 799.51,547.46 800.45,547.51 801.39,547.57 802.33,547.62 803.27,547.67 804.20,547.72 805.14,547.77 806.08,547.82 807.02,547.87 807.95,547.92 808.89,547.97 809.83,548.02 810.77,548.06 811.71,548.11 812.64,548.16 813.58,548.21 814.52,548.26 815.46,548.30 816.39,548.35 817.33,548.40 818.27,548.45 819.21,548.49 820.14,548.54 821.08,548.58 822.02,548.63 822.96,548.67 823.90,548.72 824.83,548.77 825.77,548.81 826.71,548.85 827.65,548.90 828.58,548.94 829.52,548.99 830.46,549.03 831.40,549.07 832.34,549.12 833.27,549.16 834.21,549.20 835.15,549.25 836.09,549.29 837.02,549.33 837.96,549.37 838.90,549.41 839.84,549.46 840.78,549.50 841.71,549.54 842.65,549.58 843.59,549.62 844.53,549.66 845.46,549.70 846.40,549.74 847.34,549.78 848.28,549.82" stroke="#ec0a0a" clip-path="url(#cc)"/>
<path d="M79.32,539.30 L80.26,539.20 81.20,539.10 82.14,539.00 83.07,538.90 84.01,538.80 84.95,538.70 85.89,538.59 86.82,538.49 87.76,538.38 88.70,538.28 89.64,538.17 90.58,538.06 91.51,537.96 92.45,537.85 93.39,537.74 94.33,537.63 95.26,537.52 96.20,537.41 97.14,537.29 98.08,537.18 99.02,537.07 99.95,536.95 100.89,536.84 101.83,536.72 102.77,536.60 103.70,536.49 104.64,536.37 105.58,536.25 106.52,536.13 107.46,536.01 108.39,535.89 109.33,535.76 110.27,535.64 111.21,535.52 112.14,535.39 113.08,535.27 114.02,535.14 114.96,535.01 115.89,534.88 116.83,534.75 117.77,534.62 118.71,534.49 119.65,534.36 120.58,534.23 121.52,534.09 122.46,533.96 123.40,533.82 124.33,533.69 125.27,533.55 126.21,533.41 127.15,533.27 128.09,533.13 129.02,532.99 129.96,532.84 130.90,532.70 131.84,532.56 132.77,532.41 133.71,532.26 134.65,532.11 135.59,531.97 136.53,531.82 137.46,531.66 138.40,531.51 139.34,531.36 140.28,531.20 141.21,531.05 142.15,530.89 143.09,530.74 144.03,530.58 144.97,530.42 145.90,530.25 146.84,530.09 147.78,529.93 148.72,529.76 149.65,529.60 150.59,529.43 151.53,529.26 152.47,529.09 153.40,528.92 154.34,528.75 155.28,528.58 156.22,528.40 157.16,528.22 158.09,528.05 159.03,527.87 159.97,527.69 160.91,527.51 161.84,527.32 162.78,527.14 163.72,526.95 164.66,526.77 165.60,526.58 166.53,526.39 167.47,526.20 168.41,526.01 169.35,525.81 170.28,525.62 171.22,525.42 172.16,525.22 173.10,525.02 174.04,524.82 174.97,524.61 175.91,524.41 176.85,524.20 177.79,524.00 178.72,523.79 179.66,523.57 180.60,523.36 181.54,523.15 182.48,522.93 183.41,522.71 184.35,522.49 185.29,522.27 186.23,522.05 187.16,521.82 188.10,521.60 189.04,521.37 189.98,521.14 190.91,520.91 191.85,520.67 192.79,520.44 193.73,520.20 194.67,519.96 195.60,519.72 196.54,519.48 197.48,519.23 198.42,518.99 199.35,518.74 200.29,518.49 201.23,518.23 202.17,517.98 203.11,517.72 204.04,517.46 204.98,517.20 205.92,516.94 206.86,516.68 207.79,516.41 208.73,516.14 209.67,515.87 210.61,515.59 211.55,515.32 212.48,515.04 213.42,514.76 214.36,514.48 215.30,514.19 216.23,513.90 217.17,513.62 218.11,513.32 219.05,513.03 219.99,512.73 220.92,512.43 221.86,512.13 222.80,511.83 223.74,511.52 224.67,511.21 225.61,510.90 226.55,510.59 227.49,510.27 228.42,509.96 229.36,509.63 230.30,509.31 231.24,508.98 232.18,508.65 233.11,508.32 234.05,507.99 234.99,507.65 235.93,507.31 236.86,506.97 237.80,506.62 238.74,506.28 239.68,505.92 240.62,505.57 241.55,505.21 242.49,504.85 243.43,504.49 244.37,504.13 245.30,503.76 246.24,503.39 247.18,503.01 248.12,502.64 249.06,502.26 249.99,501.87 250.93,501.49 251.87,501.10 252.81,500.71 253.74,500.31 254.68,499.91 255.62,499.51 256.56,499.11 257.50,498.70 258.43,498.29 259.37,497.87 260.31,497.46 261.25,497.04 262.18,496.61 263.12,496.19 264.06,495.75 265.00,495.32 265.93,494.88 266.87,494.44 267.81,494.00 268.75,493.55 269.69,493.10 270.62,492.65 271.56,492.19 272.50,491.73 273.44,491.27 274.37,490.80 275.31,490.33 276.25,489.86 277.19,489.38 278.13,488.90 279.06,488.41 280.00,487.93 280.94,487.44 281.88,486.94 282.81,486.44 283.75,485.94 284.69,485.44 285.63,484.93 286.57,484.42 287.50,483.91 288.44,483.39 289.38,482.87 290.32,482.34 291.25,481.82 292.19,481.28 293.13,480.75 294.07,480.21 295.00,479.67 295.94,479.13 296.88,478.58 297.82,478.03 298.76,477.48 299.69,476.92 300.63,476.36 301.57,475.80 302.51,475.24 303.44,474.67 304.38,474.10 305.32,473.53 306.26,472.95 307.20,472.38 308.13,471.79 309.07,471.21 310.01,470.63 310.95,470.04 311.88,469.45 312.82,468.86 313.76,468.27 314.70,467.67 315.64,467.07 316.57,466.47 317.51,465.87 318.45,465.27 319.39,464.67 320.32,464.07 321.26,463.46 322.20,462.85 323.14,462.25 324.08,461.64 325.01,461.03 325.95,460.43 326.89,459.82 327.83,459.21 328.76,458.60 329.70,458.00 330.64,457.39 331.58,456.79 332.51,456.18 333.45,455.58 334.39,454.98 335.33,454.38 336.27,453.78 337.20,453.19 338.14,452.60 339.08,452.01 340.02,451.43 340.95,450.84 341.89,450.27 342.83,449.69 343.77,449.13 344.71,448.56 345.64,448.00 346.58,447.45 347.52,446.90 348.46,446.36 349.39,445.83 350.33,445.30 351.27,444.78 352.21,444.27 353.15,443.77 354.08,443.28 355.02,442.79 355.96,442.32 356.90,441.85 357.83,441.40 358.77,440.96 359.71,440.53 360.65,440.11 361.59,439.71 362.52,439.31 363.46,438.94 364.40,438.57 365.34,438.23 366.27,437.89 367.21,437.58 368.15,437.28 369.09,437.00 370.03,436.74 370.96,436.49 371.90,436.27 372.84,436.06 373.78,435.88 374.71,435.71 375.65,435.57 376.59,435.46 377.53,435.36 378.46,435.29 379.40,435.25 380.34,435.23 381.28,435.24 382.22,435.27 383.15,435.33 384.09,435.42 385.03,435.54 385.97,435.69 386.90,435.87 387.84,436.09 388.78,436.33 389.72,436.61 390.66,436.92 391.59,437.27 392.53,437.65 393.47,438.07 394.41,438.52 395.34,439.01 396.28,439.55 397.22,440.12 398.16,440.73 399.10,441.38 400.03,442.07 400.97,442.81 401.91,443.59 402.85,444.41 403.78,445.27 404.72,446.19 405.66,447.14 406.60,448.15 407.54,449.20 408.47,450.30 409.41,451.45 410.35,452.65 411.29,453.90 412.22,455.20 413.16,456.55 414.10,457.95 415.04,459.40 415.97,460.91 416.91,462.47 417.85,464.08 418.79,465.74 419.73,467.46 420.66,469.24 421.60,471.06 422.54,472.95 423.48,474.88 424.41,476.87 425.35,478.91 426.29,481.00 427.23,483.14 428.17,485.34 429.10,487.58 430.04,489.87 430.98,492.21 431.92,494.59 432.85,497.01 433.79,499.47 434.73,501.96 435.67,504.49 436.61,507.05 437.54,509.63 438.48,512.23 439.42,514.85 440.36,517.47 441.29,520.10 442.23,522.72 443.17,525.33 444.11,527.92 445.05,530.49 445.98,533.02 446.92,535.50 447.86,537.93 448.80,540.30 449.73,542.60 450.67,544.81 451.61,546.92 452.55,548.93 453.48,550.83 454.42,552.60 455.36,554.24 456.30,555.73 457.24,557.07 458.17,558.25 459.11,559.26 460.05,560.09 460.99,560.75 461.92,561.22 462.86,561.51 463.80,561.60 464.74,561.51 465.68,561.22 466.61,560.75 467.55,560.09 468.49,559.26 469.43,558.25 470.36,557.07 471.30,555.73 472.24,554.24 473.18,552.60 474.12,550.83 475.05,548.93 475.99,546.92 476.93,544.81 477.87,542.60 478.80,540.30 479.74,537.93 480.68,535.50 481.62,533.02 482.56,530.49 483.49,527.92 484.43,525.33 485.37,522.72 486.31,520.10 487.24,517.47 488.18,514.85 489.12,512.23 490.06,509.63 490.99,507.05 491.93,504.49 492.87,501.96 493.81,499.47 494.75,497.01 495.68,494.59 496.62,492.21 497.56,489.87 498.50,487.58 499.43,485.34 500.37,483.14 501.31,481.00 502.25,478.91 503.19,476.87 504.12,474.88 505.06,472.95 506.00,471.06 506.94,469.24 507.87,467.46 508.81,465.74 509.75,464.08 510.69,462.47 511.63,460.91 512.56,459.40 513.50,457.95 514.44,456.55 515.38,455.20 516.31,453.90 517.25,452.65 518.19,451.45 519.13,450.30 520.07,449.20 521.00,448.15 521.94,447.14 522.88,446.19 523.82,445.27 524.75,444.41 525.69,443.59 526.63,442.81 527.57,442.07 528.50,441.38 529.44,440.73 530.38,440.12 531.32,439.55 532.26,439.01 533.19,438.52 534.13,438.07 535.07,437.65 536.01,437.27 536.94,436.92 537.88,436.61 538.82,436.33 539.76,436.09 540.70,435.87 541.63,435.69 542.57,435.54 543.51,435.42 544.45,435.33 545.38,435.27 546.32,435.24 547.26,435.23 548.20,435.25 549.14,435.29 550.07,435.36 551.01,435.46 551.95,435.57 552.89,435.71 553.82,435.88 554.76,436.06 555.70,436.27 556.64,436.49 557.58,436.74 558.51,437.00 559.45,437.28 560.39,437.58 561.33,437.89 562.26,438.23 563.20,438.57 564.14,438.94 565.08,439.31 566.01,439.71 566.95,440.11 567.89,440.53 568.83,440.96 569.77,441.40 570.70,441.85 571.64,442.32 572.58,442.79 573.52,443.28 574.45,443.77 575.39,444.27 576.33,444.78 577.27,445.30 578.21,445.83 579.14,446.36 580.08,446.90 581.02,447.45 581.96,448.00 582.89,448.56 583.83,449.13 584.77,449.69 585.71,450.27 586.65,450.84 587.58,451.43 588.52,452.01 589.46,452.60 590.40,453.19 591.33,453.78 592.27,454.38 593.21,454.98 594.15,455.58 595.09,456.18 596.02,456.79 596.96,457.39 597.90,458.00 598.84,458.60 599.77,459.21 600.71,459.82 601.65,460.43 602.59,461.03 603.52,461.64 604.46,462.25 605.40,462.85 606.34,463.46 607.28,464.07 608.21,464.67 609.15,465.27 610.09,465.87 611.03,466.47 611.96,467.07 612.90,467.67 613.84,468.27 614.78,468.86 615.72,469.45 616.65,470.04 617.59,470.63 618.53,471.21 619.47,471.79 620.40,472.38 621.34,472.95 622.28,473.53 623.22,474.10 624.16,474.67 625.09,475.24 626.03,475.80 626.97,476.36 627.91,476.92 628.84,477.48 629.78,478.03 630.72,478.58 631.66,479.13 632.60,479.67 633.53,480.21 634.47,480.75 635.41,481.28 636.35,481.82 637.28,482.34 638.22,482.87 639.16,483.39 640.10,483.91 641.03,484.42 641.97,484.93 642.91,485.44 643.85,485.94 644.79,486.44 645.72,486.94 646.66,487.44 647.60,487.93 648.54,488.41 649.47,488.90 650.41,489.38 651.35,489.86 652.29,490.33 653.23,490.80 654.16,491.27 655.10,491.73 656.04,492.19 656.98,492.65 657.91,493.10 658.85,493.55 659.79,494.00 660.73,494.44 661.67,494.88 662.60,495.32 663.54,495.75 664.48,496.19 665.42,496.61 666.35,497.04 667.29,497.46 668.23,497.87 669.17,498.29 670.11,498.70 671.04,499.11 671.98,499.51 672.92,499.91 673.86,500.31 674.79,500.71 675.73,501.10 676.67,501.49 677.61,501.87 678.54,502.26 679.48,502.64 680.42,503.01 681.36,503.39 682.30,503.76 683.23,504.13 684.17,504.49 685.11,504.85 686.05,505.21 686.98,505.57 687.92,505.92 688.86,506.28 689.80,506.62 690.74,506.97 691.67,507.31 692.61,507.65 693.55,507.99 694.49,508.32 695.42,508.65 696.36,508.98 697.30,509.31 698.24,509.63 699.18,509.96 700.11,510.27 701.05,510.59 701.99,510.90 702.93,511.21 703.86,511.52 704.80,511.83 705.74,512.13 706.68,512.43 707.62,512.73 708.55,513.03 709.49,513.32 710.43,513.62 711.37,513.90 712.30,514.19 713.24,514.48 714.18,514.76 715.12,515.04 716.05,515.32 716.99,515.59 717.93,515.87 718.87,516.14 719.81,516.41 720.74,516.68 721.68,516.94 722.62,517.20 723.56,517.46 724.49,517.72 725.43,517.98 726.37,518.23 727.31,518.49 728.25,518.74 729.18,518.99 730.12,519.23 731.06,519.48 732.00,519.72 732.93,519.96 733.87,520.20 734.81,520.44 735.75,520.67 736.69,520.91 737.62,521.14 738.56,521.37 739.50,521.60 740.44,521.82 741.37,522.05 742.31,522.27 743.25,522.49 744.19,522.71 745.12,522.93 746.06,523.15 747.00,523.36 747.94,523.57 748.88,523.79 749.81,524.00 750.75,524.20 751.69,524.41 752.63,524.61 753.56,524.82 754.50,525.02 755.44,525.22 756.38,525.42 757.32,525.62 758.25,525.81 759.19,526.01 760.13,526.20 761.07,526.39 762.00,526.58 762.94,526.77 763.88,526.95 764.82,527.14 765.76,527.32 766.69,527.51 767.63,527.69 768.57,527.87 769.51,528.05 770.44,528.22 771.38,528.40 772.32,528.58 773.26,528.75 774.20,528.92 775.13,529.09 776.07,529.26 777.01,529.43 777.95,529.60 778.88,529.76 779.82,529.93 780.76,530.09 781.70,530.25 782.63,530.42 783.57,530.58 784.51,530.74 785.45,530.89 786.39,531.05 787.32,531.20 788.26,531.36 789.20,531.51 790.14,531.66 791.07,531.82 792.01,531.97 792.95,532.11 793.89,532.26 794.83,532.41 795.76,532.56 796.70,532.70 797.64,532.84 798.58,532.99 799.51,533.13 800.45,533.27 801.39,533.41 802.33,533.55 803.27,533.69 804.20,533.82 805.14,533.96 806.08,534.09 807.02,534.23 807.95,534.36 808.89,534.49 809.83,534.62 810.77,534.75 811.71,534.88 812.64,535.01 813.58,535.14 814.52,535.27 815.46,535.39 816.39,535.52 817.33,535.64 818.27,535.76 819.21,535.89 820.14,536.01 821.08,536.13 822.02,536.25 822.96,536.37 823.90,536.49 824.83,536.60 825.77,536.72 826.71,536.84 827.65,536.95 828.58,537.07 829.52,537.18 830.46,537.29 831.40,537.41 832.34,537.52 833.27,537.63 834.21,537.74 835.15,537.85 836.09,537.96 837.02,538.06 837.96,538.17 838.90,538.28 839.84,538.38 840.78,538.49 841.71,538.59 842.65,538.70 843.59,538.80 844.53,538.90 845.46,539.00 846.40,539.10 847.34,539.20 848.28,539.30" stroke="#000000" clip-path="url(#cc)"/>
<path d="M79.32,549.32 L80.26,549.28 81.20,549.24 82.14,549.20 83.07,549.16 84.01,549.12 84.95,549.07 85.89,549.03 86.82,548.99 87.76,548.95 88.70,548.90 89.64,548.86 90.58,548.82 91.51,548.77 92.45,548.73 93.39,548.69 94.33,548.64 95.26,548.60 96.20,548.55 97.14,548.51 98.08,548.46 99.02,548.42 99.95,548.37 100.89,548.32 101.83,548.28 102.77,548.23 103.70,548.19 104.64,548.14 105.58,548.09 106.52,548.04 107.46,548.00 108.39,547.95 109.33,547.90 110.27,547.85 111.21,547.80 112.14,547.75 113.08,547.71 114.02,547.66 114.96,547.61 115.89,547.56 116.83,547.51 117.77,547.46 118.71,547.41 119.65,547.35 120.58,547.30 121.52,547.25 122.46,547.20 123.40,547.15 124.33,547.10 125.27,547.04 126.21,546.99 127.15,546.94 128.09,546.88 129.02,546.83 129.96,546.78 130.90,546.72 131.84,546.67 132.77,546.61 133.71,546.56 134.65,546.50 135.59,546.45 136.53,546.39 137.46,546.33 138.40,546.28 139.34,546.22 140.28,546.16 141.21,546.10 142.15,546.05 143.09,545.99 144.03,545.93 144.97,545.87 145.90,545.81 146.84,545.75 147.78,545.69 148.72,545.63 149.65,545.57 150.59,545.51 151.53,545.45 152.47,545.39 153.40,545.33 154.34,545.26 155.28,545.20 156.22,545.14 157.16,545.07 158.09,545.01 159.03,544.95 159.97,544.88 160.91,544.82 161.84,544.75 162.78,544.69 163.72,544.62 164.66,544.55 165.60,544.49 166.53,544.42 167.47,544.35 168.41,544.29 169.35,544.22 170.28,544.15 171.22,544.08 172.16,544.01 173.10,543.94 174.04,543.87 174.97,543.80 175.91,543.73 176.85,543.66 177.79,543.59 178.72,543.51 179.66,543.44 180.60,543.37 181.54,543.29 182.48,543.22 183.41,543.15 184.35,543.07 185.29,543.00 186.23,542.92 187.16,542.84 188.10,542.77 189.04,542.69 189.98,542.61 190.91,542.53 191.85,542.46 192.79,542.38 193.73,542.30 194.67,542.22 195.60,542.14 196.54,542.06 197.48,541.98 198.42,541.89 199.35,541.81 200.29,541.73 201.23,541.65 202.17,541.56 203.11,541.48 204.04,541.39 204.98,541.31 205.92,541.22 206.86,541.13 207.79,541.05 208.73,540.96 209.67,540.87 210.61,540.78 211.55,540.69 212.48,540.60 213.42,540.51 214.36,540.42 215.30,540.33 216.23,540.24 217.17,540.15 218.11,540.05 219.05,539.96 219.99,539.87 220.92,539.77 221.86,539.68 222.80,539.58 223.74,539.48 224.67,539.39 225.61,539.29 226.55,539.19 227.49,539.09 228.42,538.99 229.36,538.89 230.30,538.79 231.24,538.69 232.18,538.58 233.11,538.48 234.05,538.38 234.99,538.27 235.93,538.17 236.86,538.06 237.80,537.95 238.74,537.85 239.68,537.74 240.62,537.63 241.55,537.52 242.49,537.41 243.43,537.30 244.37,537.19 245.30,537.08 246.24,536.96 247.18,536.85 248.12,536.74 249.06,536.62 249.99,536.50 250.93,536.39 251.87,536.27 252.81,536.15 253.74,536.03 254.68,535.91 255.62,535.79 256.56,535.67 257.50,535.55 258.43,535.42 259.37,535.30 260.31,535.17 261.25,535.05 262.18,534.92 263.12,534.79 264.06,534.67 265.00,534.54 265.93,534.41 266.87,534.28 267.81,534.14 268.75,534.01 269.69,533.88 270.62,533.74 271.56,533.61 272.50,533.47 273.44,533.33 274.37,533.19 275.31,533.05 276.25,532.91 277.19,532.77 278.13,532.63 279.06,532.49 280.00,532.34 280.94,532.20 281.88,532.05 282.81,531.90 283.75,531.75 284.69,531.60 285.63,531.45 286.57,531.30 287.50,531.15 288.44,530.99 289.38,530.84 290.32,530.68 291.25,530.53 292.19,530.37 293.13,530.21 294.07,530.05 295.00,529.89 295.94,529.72 296.88,529.56 297.82,529.39 298.76,529.23 299.69,529.06 300.63,528.89 301.57,528.72 302.51,528.55 303.44,528.37 304.38,528.20 305.32,528.02 306.26,527.85 307.20,527.67 308.13,527.49 309.07,527.31 310.01,527.13 310.95,526.94 311.88,526.76 312.82,526.57 313.76,526.39 314.70,526.20 315.64,526.01 316.57,525.81 317.51,525.62 318.45,525.43 319.39,525.23 320.32,525.03 321.26,524.83 322.20,524.63 323.14,524.43 324.08,524.23 325.01,524.02 325.95,523.81 326.89,523.61 327.83,523.40 328.76,523.18 329.70,522.97 330.64,522.76 331.58,522.54 332.51,522.32 333.45,522.10 334.39,521.88 335.33,521.66 336.27,521.43 337.20,521.21 338.14,520.98 339.08,520.75 340.02,520.52 340.95,520.28 341.89,520.05 342.83,519.81 343.77,519.57 344.71,519.33 345.64,519.08 346.58,518.84 347.52,518.59 348.46,518.34 349.39,518.09 350.33,517.84 351.27,517.59 352.21,517.33 353.15,517.07 354.08,516.81 355.02,516.55 355.96,516.28 356.90,516.01 357.83,515.75 358.77,515.47 359.71,515.20 360.65,514.92 361.59,514.65 362.52,514.37 363.46,514.08 364.40,513.80 365.34,513.51 366.27,513.22 367.21,512.93 368.15,512.64 369.09,512.34 370.03,512.05 370.96,511.74 371.90,511.44 372.84,511.14 373.78,510.83 374.71,510.52 375.65,510.20 376.59,509.89 377.53,509.57 378.46,509.25 379.40,508.93 380.34,508.60 381.28,508.27 382.22,507.94 383.15,507.61 384.09,507.27 385.03,506.94 385.97,506.59 386.90,506.25 387.84,505.90 388.78,505.55 389.72,505.20 390.66,504.85 391.59,504.49 392.53,504.13 393.47,503.76 394.41,503.40 395.34,503.03 396.28,502.65 397.22,502.28 398.16,501.90 399.10,501.52 400.03,501.14 400.97,500.75 401.91,500.36 402.85,499.96 403.78,499.57 404.72,499.17 405.66,498.77 406.60,498.36 407.54,497.95 408.47,497.54 409.41,497.13 410.35,496.71 411.29,496.29 412.22,495.86 413.16,495.43 414.10,495.00 415.04,494.57 415.97,494.13 416.91,493.69 417.85,493.25 418.79,492.80 419.73,492.35 420.66,491.89 421.60,491.44 422.54,490.98 423.48,490.51 424.41,490.05 425.35,489.58 426.29,489.10 427.23,488.63 428.17,488.14 429.10,487.66 430.04,487.17 430.98,486.68 431.92,486.19 432.85,485.69 433.79,485.19 434.73,484.69 435.67,484.18 436.61,483.67 437.54,483.16 438.48,482.64 439.42,482.12 440.36,481.60 441.29,481.07 442.23,480.54 443.17,480.01 444.11,479.48 445.05,478.94 445.98,478.40 446.92,477.85 447.86,477.30 448.80,476.75 449.73,476.20 450.67,475.64 451.61,475.09 452.55,474.52 453.48,473.96 454.42,473.39 455.36,472.82 456.30,472.25 457.24,471.68 458.17,471.10 459.11,470.52 460.05,469.94 460.99,469.35 461.92,468.77 462.86,468.18 463.80,467.59 464.74,467.00 465.68,466.41 466.61,465.81 467.55,465.22 468.49,464.62 469.43,464.02 470.36,463.43 471.30,462.83 472.24,462.23 473.18,461.62 474.12,461.02 475.05,460.42 475.99,459.82 476.93,459.22 477.87,458.62 478.80,458.02 479.74,457.42 480.68,456.82 481.62,456.22 482.56,455.62 483.49,455.03 484.43,454.43 485.37,453.84 486.31,453.25 487.24,452.67 488.18,452.08 489.12,451.50 490.06,450.93 490.99,450.35 491.93,449.78 492.87,449.22 493.81,448.66 494.75,448.10 495.68,447.55 496.62,447.01 497.56,446.47 498.50,445.94 499.43,445.41 500.37,444.89 501.31,444.38 502.25,443.88 503.19,443.39 504.12,442.90 505.06,442.43 506.00,441.96 506.94,441.51 507.87,441.06 508.81,440.63 509.75,440.21 510.69,439.80 511.63,439.40 512.56,439.02 513.50,438.65 514.44,438.29 515.38,437.95 516.31,437.63 517.25,437.32 518.19,437.03 519.13,436.75 520.07,436.49 521.00,436.26 521.94,436.04 522.88,435.84 523.82,435.66 524.75,435.50 525.69,435.37 526.63,435.25 527.57,435.16 528.50,435.09 529.44,435.05 530.38,435.03 531.32,435.04 532.26,435.08 533.19,435.14 534.13,435.23 535.07,435.35 536.01,435.50 536.94,435.68 537.88,435.89 538.82,436.13 539.76,436.40 540.70,436.70 541.63,437.04 542.57,437.42 543.51,437.83 544.45,438.27 545.38,438.76 546.32,439.28 547.26,439.83 548.20,440.43 549.14,441.07 550.07,441.74 551.01,442.46 551.95,443.22 552.89,444.02 553.82,444.87 554.76,445.76 555.70,446.69 556.64,447.67 557.58,448.70 558.51,449.77 559.45,450.89 560.39,452.05 561.33,453.27 562.26,454.53 563.20,455.85 564.14,457.21 565.08,458.63 566.01,460.09 566.95,461.61 567.89,463.18 568.83,464.80 569.77,466.47 570.70,468.20 571.64,469.98 572.58,471.81 573.52,473.69 574.45,475.63 575.39,477.62 576.33,479.66 577.27,481.75 578.21,483.89 579.14,486.07 580.08,488.31 581.02,490.59 581.96,492.92 582.89,495.29 583.83,497.70 584.77,500.14 585.71,502.62 586.65,505.13 587.58,507.67 588.52,510.23 589.46,512.81 590.40,515.40 591.33,518.00 592.27,520.61 593.21,523.20 594.15,525.79 595.09,528.35 596.02,530.89 596.96,533.39 597.90,535.85 598.84,538.25 599.77,540.59 600.71,542.86 601.65,545.04 602.59,547.13 603.52,549.11 604.46,550.98 605.40,552.73 606.34,554.34 607.28,555.81 608.21,557.13 609.15,558.30 610.09,559.29 611.03,560.11 611.96,560.76 612.90,561.23 613.84,561.51 614.78,561.60 615.72,561.51 616.65,561.23 617.59,560.76 618.53,560.12 619.47,559.30 620.40,558.30 621.34,557.14 622.28,555.82 623.22,554.35 624.16,552.74 625.09,550.99 626.03,549.12 626.97,547.14 627.91,545.05 628.84,542.87 629.78,540.61 630.72,538.27 631.66,535.87 632.60,533.41 633.53,530.91 634.47,528.37 635.41,525.81 636.35,523.22 637.28,520.63 638.22,518.03 639.16,515.43 640.10,512.84 641.03,510.26 641.97,507.70 642.91,505.16 643.85,502.65 644.79,500.17 645.72,497.73 646.66,495.32 647.60,492.95 648.54,490.62 649.47,488.34 650.41,486.11 651.35,483.92 652.29,481.78 653.23,479.69 654.16,477.65 655.10,475.67 656.04,473.73 656.98,471.85 657.91,470.02 658.85,468.24 659.79,466.51 660.73,464.84 661.67,463.22 662.60,461.65 663.54,460.13 664.48,458.67 665.42,457.25 666.35,455.89 667.29,454.57 668.23,453.31 669.17,452.09 670.11,450.93 671.04,449.81 671.98,448.74 672.92,447.71 673.86,446.73 674.79,445.80 675.73,444.91 676.67,444.06 677.61,443.26 678.54,442.50 679.48,441.78 680.42,441.11 681.36,440.47 682.30,439.87 683.23,439.31 684.17,438.79 685.11,438.31 686.05,437.87 686.98,437.46 687.92,437.08 688.86,436.74 689.80,436.44 690.74,436.16 691.67,435.92 692.61,435.71 693.55,435.53 694.49,435.38 695.42,435.26 696.36,435.17 697.30,435.11 698.24,435.08 699.18,435.07 700.11,435.08 701.05,435.13 701.99,435.19 702.93,435.28 703.86,435.39 704.80,435.53 705.74,435.69 706.68,435.87 707.62,436.06 708.55,436.28 709.49,436.52 710.43,436.78 711.37,437.05 712.30,437.34 713.24,437.65 714.18,437.97 715.12,438.31 716.05,438.67 716.99,439.04 717.93,439.42 718.87,439.82 719.81,440.22 720.74,440.65 721.68,441.08 722.62,441.52 723.56,441.98 724.49,442.44 725.43,442.92 726.37,443.40 727.31,443.90 728.25,444.40 729.18,444.91 730.12,445.42 731.06,445.95 732.00,446.48 732.93,447.02 733.87,447.56 734.81,448.11 735.75,448.67 736.69,449.23 737.62,449.79 738.56,450.36 739.50,450.93 740.44,451.51 741.37,452.09 742.31,452.67 743.25,453.26 744.19,453.85 745.12,454.44 746.06,455.03 747.00,455.63 747.94,456.22 748.88,456.82 749.81,457.42 750.75,458.02 751.69,458.62 752.63,459.22 753.56,459.82 754.50,460.42 755.44,461.02 756.38,461.62 757.32,462.23 758.25,462.83 759.19,463.42 760.13,464.02 761.07,464.62 762.00,465.22 762.94,465.81 763.88,466.41 764.82,467.00 765.76,467.59 766.69,468.18 767.63,468.77 768.57,469.35 769.51,469.93 770.44,470.52 771.38,471.09 772.32,471.67 773.26,472.25 774.20,472.82 775.13,473.39 776.07,473.95 777.01,474.52 777.95,475.08 778.88,475.64 779.82,476.20 780.76,476.75 781.70,477.30 782.63,477.85 783.57,478.39 784.51,478.93 785.45,479.47 786.39,480.01 787.32,480.54 788.26,481.07 789.20,481.59 790.14,482.12 791.07,482.64 792.01,483.15 792.95,483.67 793.89,484.18 794.83,484.68 795.76,485.19 796.70,485.69 797.64,486.18 798.58,486.68 799.51,487.17 800.45,487.65 801.39,488.14 802.33,488.62 803.27,489.09 804.20,489.57 805.14,490.04 806.08,490.51 807.02,490.97 807.95,491.43 808.89,491.89 809.83,492.34 810.77,492.79 811.71,493.24 812.64,493.68 813.58,494.12 814.52,494.56 815.46,494.99 816.39,495.43 817.33,495.85 818.27,496.28 819.21,496.70 820.14,497.12 821.08,497.53 822.02,497.94 822.96,498.35 823.90,498.76 824.83,499.16 825.77,499.56 826.71,499.96 827.65,500.35 828.58,500.74 829.52,501.13 830.46,501.51 831.40,501.89 832.34,502.27 833.27,502.65 834.21,503.02 835.15,503.39 836.09,503.76 837.02,504.12 837.96,504.48 838.90,504.84 839.84,505.19 840.78,505.55 841.71,505.90 842.65,506.24 843.59,506.59 844.53,506.93 845.46,507.27 846.40,507.60 847.34,507.94 848.28,508.27" stroke="#0606e0" clip-path="url(#cc)"/>
</g>
<g stroke="#000" stroke-width="1.5" fill="none">
<rect x="88.1" y="9.2" width="750.70" height="170.40" fill="none" stroke="#000" stroke-width="1.8"/>
<line x1="182.48" y1="179.6" x2="182.48" y2="173.4" />
<line x1="182.48" y1="9.2" x2="182.48" y2="15.399999999999999" />
<line x1="276.25" y1="179.6" x2="276.25" y2="167.6" />
<line x1="276.25" y1="9.2" x2="276.25" y2="21.2" />
<line x1="370.03" y1="179.6" x2="370.03" y2="173.4" />
<line x1="370.03" y1="9.2" x2="370.03" y2="15.399999999999999" />
<line x1="463.80" y1="179.6" x2="463.80" y2="167.6" />
<line x1="463.80" y1="9.2" x2="463.80" y2="21.2" />
<line x1="557.58" y1="179.6" x2="557.58" y2="173.4" />
<line x1="557.58" y1="9.2" x2="557.58" y2="15.399999999999999" />
<line x1="651.35" y1="179.6" x2="651.35" y2="167.6" />
<line x1="651.35" y1="9.2" x2="651.35" y2="21.2" />
<line x1="745.12" y1="179.6" x2="745.12" y2="173.4" />
<line x1="745.12" y1="9.2" x2="745.12" y2="15.399999999999999" />
<line x1="88.1" y1="32.10" x2="100.5" y2="32.10" />
<line x1="838.8" y1="32.10" x2="826.4" y2="32.10" />
<line x1="88.1" y1="54.90" x2="100.5" y2="54.90" />
<line x1="838.8" y1="54.90" x2="826.4" y2="54.90" />
<line x1="88.1" y1="77.70" x2="100.5" y2="77.70" />
<line x1="838.8" y1="77.70" x2="826.4" y2="77.70" />
<line x1="88.1" y1="100.50" x2="100.5" y2="100.50" />
<line x1="838.8" y1="100.50" x2="826.4" y2="100.50" />
<line x1="88.1" y1="123.30" x2="100.5" y2="123.30" />
<line x1="838.8" y1="123.30" x2="826.4" y2="123.30" />
<line x1="88.1" y1="146.10" x2="100.5" y2="146.10" />
<line x1="838.8" y1="146.10" x2="826.4" y2="146.10" />
<line x1="88.1" y1="168.90" x2="100.5" y2="168.90" />
<line x1="838.8" y1="168.90" x2="826.4" y2="168.90" />
<line x1="88.1" y1="20.70" x2="94.3" y2="20.70" />
<line x1="838.8" y1="20.70" x2="832.5999999999999" y2="20.70" />
<line x1="88.1" y1="43.50" x2="94.3" y2="43.50" />
<line x1="838.8" y1="43.50" x2="832.5999999999999" y2="43.50" />
<line x1="88.1" y1="66.30" x2="94.3" y2="66.30" />
<line x1="838.8" y1="66.30" x2="832.5999999999999" y2="66.30" />
<line x1="88.1" y1="89.10" x2="94.3" y2="89.10" />
<line x1="838.8" y1="89.10" x2="832.5999999999999" y2="89.10" />
<line x1="88.1" y1="111.90" x2="94.3" y2="111.90" />
<line x1="838.8" y1="111.90" x2="832.5999999999999" y2="111.90" />
<line x1="88.1" y1="134.70" x2="94.3" y2="134.70" />
<line x1="838.8" y1="134.70" x2="832.5999999999999" y2="134.70" />
<line x1="88.1" y1="157.50" x2="94.3" y2="157.50" />
<line x1="838.8" y1="157.50" x2="832.5999999999999" y2="157.50" />
<rect x="88.1" y="202.5" width="750.70" height="170.40" fill="none" stroke="#000" stroke-width="1.8"/>
<line x1="182.48" y1="372.9" x2="182.48" y2="366.7" />
<line x1="182.48" y1="202.5" x2="182.48" y2="208.7" />
<line x1="276.25" y1="372.9" x2="276.25" y2="360.9" />
<line x1="276.25" y1="202.5" x2="276.25" y2="214.5" />
<line x1="370.03" y1="372.9" x2="370.03" y2="366.7" />
<line x1="370.03" y1="202.5" x2="370.03" y2="208.7" />
<line x1="463.80" y1="372.9" x2="463.80" y2="360.9" />
<line x1="463.80" y1="202.5" x2="463.80" y2="214.5" />
<line x1="557.58" y1="372.9" x2="557.58" y2="366.7" />
<line x1="557.58" y1="202.5" x2="557.58" y2="208.7" />
<line x1="651.35" y1="372.9" x2="651.35" y2="360.9" />
<line x1="651.35" y1="202.5" x2="651.35" y2="214.5" />
<line x1="745.12" y1="372.9" x2="745.12" y2="366.7" />
<line x1="745.12" y1="202.5" x2="745.12" y2="208.7" />
<line x1="88.1" y1="259.30" x2="100.5" y2="259.30" />
<line x1="838.8" y1="259.30" x2="826.4" y2="259.30" />
<line x1="88.1" y1="316.30" x2="100.5" y2="316.30" />
<line x1="838.8" y1="316.30" x2="826.4" y2="316.30" />
<line x1="88.1" y1="230.80" x2="94.3" y2="230.80" />
<line x1="838.8" y1="230.80" x2="832.5999999999999" y2="230.80" />
<line x1="88.1" y1="287.80" x2="94.3" y2="287.80" />
<line x1="838.8" y1="287.80" x2="832.5999999999999" y2="287.80" />
<line x1="88.1" y1="344.80" x2="94.3" y2="344.80" />
<line x1="838.8" y1="344.80" x2="832.5999999999999" y2="344.80" />
<rect x="88.1" y="396.3" width="750.70" height="169.80" fill="none" stroke="#000" stroke-width="1.8"/>
<line x1="182.48" y1="566.1" x2="182.48" y2="559.9" />
<line x1="182.48" y1="396.3" x2="182.48" y2="402.5" />
<line x1="276.25" y1="566.1" x2="276.25" y2="554.1" />
<line x1="276.25" y1="396.3" x2="276.25" y2="408.3" />
<line x1="370.03" y1="566.1" x2="370.03" y2="559.9" />
<line x1="370.03" y1="396.3" x2="370.03" y2="402.5" />
<line x1="463.80" y1="566.1" x2="463.80" y2="554.1" />
<line x1="463.80" y1="396.3" x2="463.80" y2="408.3" />
<line x1="557.58" y1="566.1" x2="557.58" y2="559.9" />
<line x1="557.58" y1="396.3" x2="557.58" y2="402.5" />
<line x1="651.35" y1="566.1" x2="651.35" y2="554.1" />
<line x1="651.35" y1="396.3" x2="651.35" y2="408.3" />
<line x1="745.12" y1="566.1" x2="745.12" y2="559.9" />
<line x1="745.12" y1="396.3" x2="745.12" y2="402.5" />
<line x1="88.1" y1="561.60" x2="100.5" y2="561.60" />
<line x1="838.8" y1="561.60" x2="826.4" y2="561.60" />
<line x1="88.1" y1="514.23" x2="100.5" y2="514.23" />
<line x1="838.8" y1="514.23" x2="826.4" y2="514.23" />
<line x1="88.1" y1="466.86" x2="100.5" y2="466.86" />
<line x1="838.8" y1="466.86" x2="826.4" y2="466.86" />
<line x1="88.1" y1="419.49" x2="100.5" y2="419.49" />
<line x1="838.8" y1="419.49" x2="826.4" y2="419.49" />
<line x1="88.1" y1="537.91" x2="94.3" y2="537.91" />
<line x1="838.8" y1="537.91" x2="832.5999999999999" y2="537.91" />
<line x1="88.1" y1="490.55" x2="94.3" y2="490.55" />
<line x1="838.8" y1="490.55" x2="832.5999999999999" y2="490.55" />
<line x1="88.1" y1="443.18" x2="94.3" y2="443.18" />
<line x1="838.8" y1="443.18" x2="832.5999999999999" y2="443.18" />
</g>
<g>
<text transform="translate(75.30,15.50) scale(1,1.06)" font-size="23.3" text-anchor="end">3.0</text>
<text transform="translate(75.30,38.30) scale(1,1.06)" font-size="23.3" text-anchor="end">2.4</text>
<text transform="translate(75.30,61.10) scale(1,1.06)" font-size="23.3" text-anchor="end">1.8</text>
<text transform="translate(75.30,83.90) scale(1,1.06)" font-size="23.3" text-anchor="end">1.2</text>
<text transform="translate(75.30,106.70) scale(1,1.06)" font-size="23.3" text-anchor="end">0.6</text>
<text transform="translate(75.30,129.50) scale(1,1.06)" font-size="23.3" text-anchor="end">0.0</text>
<text transform="translate(75.30,152.30) scale(1,1.06)" font-size="23.3" text-anchor="end">-0.6</text>
<text transform="translate(75.30,175.10) scale(1,1.06)" font-size="23.3" text-anchor="end">-1.2</text>
<text transform="translate(75.30,208.50) scale(1,1.06)" font-size="23.3" text-anchor="end">1.50</text>
<text transform="translate(75.30,265.50) scale(1,1.06)" font-size="23.3" text-anchor="end">1.25</text>
<text transform="translate(75.30,322.50) scale(1,1.06)" font-size="23.3" text-anchor="end">1.00</text>
<text transform="translate(75.30,379.50) scale(1,1.06)" font-size="23.3" text-anchor="end">0.75</text>
<text transform="translate(75.30,567.80) scale(1,1.06)" font-size="23.3" text-anchor="end">0.0</text>
<text transform="translate(75.30,520.43) scale(1,1.06)" font-size="23.3" text-anchor="end">0.1</text>
<text transform="translate(75.30,473.06) scale(1,1.06)" font-size="23.3" text-anchor="end">0.2</text>
<text transform="translate(75.30,425.69) scale(1,1.06)" font-size="23.3" text-anchor="end">0.3</text>
<text transform="translate(88.50,596.80) scale(1,1.05)" font-size="22.6" text-anchor="middle">-20</text>
<text transform="translate(276.05,596.80) scale(1,1.05)" font-size="22.6" text-anchor="middle">-10</text>
<text transform="translate(463.60,596.80) scale(1,1.05)" font-size="22.6" text-anchor="middle">0</text>
<text transform="translate(651.15,596.80) scale(1,1.05)" font-size="22.6" text-anchor="middle">10</text>
<text transform="translate(838.70,596.80) scale(1,1.05)" font-size="22.6" text-anchor="middle">20</text>
</g>
<!-- axis titles -->
<text transform="translate(25.1,139.5) rotate(-90)" font-size="30">S/(k<tspan font-size="17" dy="11">B</tspan><tspan dy="-11">/e)</tspan></text>
<text transform="translate(20.2,335.0) rotate(-90) scale(1,1.05)" font-size="30">WF/(L<tspan font-size="17" dy="8">0</tspan><tspan dy="-8">)</tspan></text>
<text transform="translate(22.9,504.3) rotate(-90) scale(1,1.03)" font-size="31.3">ZT</text>
<g font-size="33">
<text x="438.2" y="629.8" stroke="#000" stroke-width="0.6">ε</text>
<text x="452.8" y="643.6" font-size="18">1</text>
<text transform="translate(462.0,629.8) scale(0.88,1)" font-size="32.5">/</text>
<text x="470.0" y="629.8">Γ</text>
</g>
<!-- panel labels -->
<g font-weight="bold">
<text transform="translate(104.9,38.3) scale(1.1,1)" font-size="23.4">(</text>
<text x="113.6" y="38.95" font-size="25.5">a</text>
<text transform="translate(125.9,38.3) scale(1.1,1)" font-size="23.4">)</text>
<text transform="translate(105.9,232.1) scale(1.1,1)" font-size="23.4">(</text>
<text x="114.8" y="233.05" font-size="25.5">b</text>
<text transform="translate(128.3,232.1) scale(1.1,1)" font-size="23.4">)</text>
<text transform="translate(105.2,425.4) scale(1.1,1)" font-size="23.4">(</text>
<text x="113.5" y="425.9" font-size="26">c</text>
<text transform="translate(124.5,425.4) scale(1.1,1)" font-size="23.4">)</text>
</g>
<!-- params -->
<g font-size="22">
<text transform="translate(163.3,45.6) scale(1.05,1.07)" stroke="#000" stroke-width="0.45">ε</text>
<text transform="translate(172.6,54.9) scale(1,1.05)" font-size="13.5">2</text>
<rect x="184.6" y="37.1" width="11.4" height="1.65"/><rect x="184.6" y="41.2" width="11.4" height="1.65"/>
<text transform="translate(201.0,45.6) scale(1,1.08)">0.05Γ</text>
<text transform="translate(267.2,45.6) scale(1,1.08)">Δ</text>
<rect x="285.6" y="35.9" width="11.3" height="1.65"/><rect x="285.6" y="40.2" width="11.3" height="1.65"/>
<text transform="translate(301.6,45.6) scale(1,1.08)">4.0Γ</text>
<text transform="translate(361.8,45.6) scale(1,1.08)">T</text>
<rect x="382.3" y="37.8" width="11.6" height="1.65"/><rect x="382.3" y="42.2" width="11.6" height="1.65"/>
<text transform="translate(401.8,45.6) scale(1,1.08)">10</text>
<text transform="translate(423.6,33.6) scale(1,1.05)" font-size="14">-4</text>
<text transform="translate(435.4,45.6) scale(1,1.08)">Γ</text>
</g>
<!-- legend -->
<g font-size="18.8">
<text x="710.7" y="28.6">t</text><rect x="721.3" y="21.1" width="9.9" height="1.5"/><rect x="721.3" y="25.2" width="9.9" height="1.5"/>
<line x1="736" y1="21.8" x2="779.5" y2="21.8" stroke="#ec0a0a" stroke-width="3.4" stroke-linecap="round"/>
<text x="784.2" y="28.6">3.95Γ</text>
<line x1="734.8" y1="46.2" x2="777.6" y2="46.2" stroke="#000" stroke-width="3.4" stroke-linecap="round"/>
<text x="782.3" y="53">4.0Γ</text>
<line x1="734.8" y1="70.6" x2="777.6" y2="70.6" stroke="#0606e0" stroke-width="3.4" stroke-linecap="round"/>
<text x="782.3" y="77.4">4.05Γ</text>
</g>
<!-- annotations -->
<g font-size="17" font-weight="bold" stroke="#000" stroke-width="0.3">
<text transform="translate(169,140.8)">TUNER OF</text>
<text transform="translate(165.3,162)">ELECTRONS</text>
<text transform="translate(653,92.9)">TUNER OF</text>
<text transform="translate(669.5,115.1)">HOLES</text>
</g>
<g stroke="#000" stroke-width="2.5" stroke-linecap="round">
<line x1="283" y1="142" x2="326.3" y2="142"/>
<line x1="595.6" y1="99.5" x2="638" y2="99.5"/>
</g>
<g fill="#000" stroke="#000" stroke-width="1.2" stroke-linejoin="round">
<polygon points="271.1,141.9 284.2,135.6 284.2,148.0"/>
<polygon points="650.8,99.5 638.0,93.1 638.0,105.9"/>
</g>

</svg>
</body></html>
